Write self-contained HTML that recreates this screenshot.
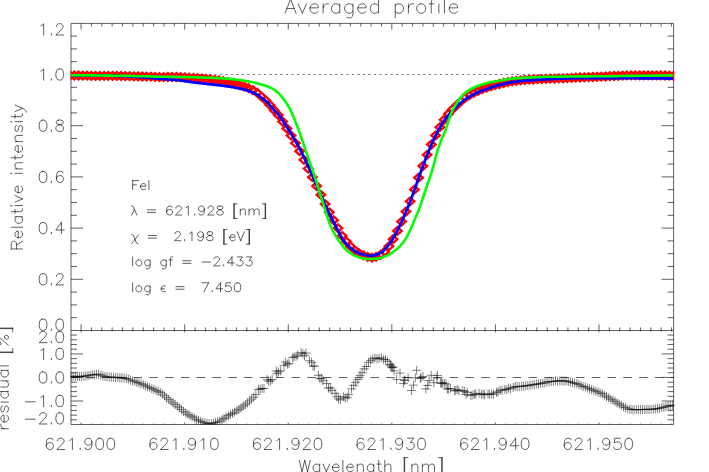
<!DOCTYPE html>
<html><head><meta charset="utf-8"><title>Averaged profile</title>
<style>html,body{margin:0;padding:0;background:#fff;font-family:"Liberation Sans",sans-serif}svg{display:block}</style></head>
<body><svg width="709" height="472" viewBox="0 0 709 472">
<rect width="709" height="472" fill="#fff"/>
<defs><clipPath id="cm"><rect x="70.5" y="23.4" width="603.8" height="307.1"/></clipPath>
<clipPath id="cr"><rect x="70.5" y="330.5" width="604.1" height="94.5"/></clipPath></defs>
<path d="M71.0 23.4H673.6V424.5H71.0ZM71.0 330.5H673.6M81.10 23.4v6.2M81.10 330.5v-6.2M81.10 330.5v1.9M81.10 424.5v-1.9M91.46 23.4v3.1M91.46 330.5v-3.1M91.46 330.5v0.9M91.46 424.5v-0.9M101.82 23.4v3.1M101.82 330.5v-3.1M101.82 330.5v0.9M101.82 424.5v-0.9M112.17 23.4v3.1M112.17 330.5v-3.1M112.17 330.5v0.9M112.17 424.5v-0.9M122.53 23.4v3.1M122.53 330.5v-3.1M122.53 330.5v0.9M122.53 424.5v-0.9M132.89 23.4v3.1M132.89 330.5v-3.1M132.89 330.5v0.9M132.89 424.5v-0.9M143.25 23.4v3.1M143.25 330.5v-3.1M143.25 330.5v0.9M143.25 424.5v-0.9M153.61 23.4v3.1M153.61 330.5v-3.1M153.61 330.5v0.9M153.61 424.5v-0.9M163.96 23.4v3.1M163.96 330.5v-3.1M163.96 330.5v0.9M163.96 424.5v-0.9M174.32 23.4v3.1M174.32 330.5v-3.1M174.32 330.5v0.9M174.32 424.5v-0.9M184.68 23.4v6.2M184.68 330.5v-6.2M184.68 330.5v1.9M184.68 424.5v-1.9M195.04 23.4v3.1M195.04 330.5v-3.1M195.04 330.5v0.9M195.04 424.5v-0.9M205.40 23.4v3.1M205.40 330.5v-3.1M205.40 330.5v0.9M205.40 424.5v-0.9M215.75 23.4v3.1M215.75 330.5v-3.1M215.75 330.5v0.9M215.75 424.5v-0.9M226.11 23.4v3.1M226.11 330.5v-3.1M226.11 330.5v0.9M226.11 424.5v-0.9M236.47 23.4v3.1M236.47 330.5v-3.1M236.47 330.5v0.9M236.47 424.5v-0.9M246.83 23.4v3.1M246.83 330.5v-3.1M246.83 330.5v0.9M246.83 424.5v-0.9M257.19 23.4v3.1M257.19 330.5v-3.1M257.19 330.5v0.9M257.19 424.5v-0.9M267.54 23.4v3.1M267.54 330.5v-3.1M267.54 330.5v0.9M267.54 424.5v-0.9M277.90 23.4v3.1M277.90 330.5v-3.1M277.90 330.5v0.9M277.90 424.5v-0.9M288.26 23.4v6.2M288.26 330.5v-6.2M288.26 330.5v1.9M288.26 424.5v-1.9M298.62 23.4v3.1M298.62 330.5v-3.1M298.62 330.5v0.9M298.62 424.5v-0.9M308.98 23.4v3.1M308.98 330.5v-3.1M308.98 330.5v0.9M308.98 424.5v-0.9M319.33 23.4v3.1M319.33 330.5v-3.1M319.33 330.5v0.9M319.33 424.5v-0.9M329.69 23.4v3.1M329.69 330.5v-3.1M329.69 330.5v0.9M329.69 424.5v-0.9M340.05 23.4v3.1M340.05 330.5v-3.1M340.05 330.5v0.9M340.05 424.5v-0.9M350.41 23.4v3.1M350.41 330.5v-3.1M350.41 330.5v0.9M350.41 424.5v-0.9M360.77 23.4v3.1M360.77 330.5v-3.1M360.77 330.5v0.9M360.77 424.5v-0.9M371.12 23.4v3.1M371.12 330.5v-3.1M371.12 330.5v0.9M371.12 424.5v-0.9M381.48 23.4v3.1M381.48 330.5v-3.1M381.48 330.5v0.9M381.48 424.5v-0.9M391.84 23.4v6.2M391.84 330.5v-6.2M391.84 330.5v1.9M391.84 424.5v-1.9M402.20 23.4v3.1M402.20 330.5v-3.1M402.20 330.5v0.9M402.20 424.5v-0.9M412.56 23.4v3.1M412.56 330.5v-3.1M412.56 330.5v0.9M412.56 424.5v-0.9M422.91 23.4v3.1M422.91 330.5v-3.1M422.91 330.5v0.9M422.91 424.5v-0.9M433.27 23.4v3.1M433.27 330.5v-3.1M433.27 330.5v0.9M433.27 424.5v-0.9M443.63 23.4v3.1M443.63 330.5v-3.1M443.63 330.5v0.9M443.63 424.5v-0.9M453.99 23.4v3.1M453.99 330.5v-3.1M453.99 330.5v0.9M453.99 424.5v-0.9M464.35 23.4v3.1M464.35 330.5v-3.1M464.35 330.5v0.9M464.35 424.5v-0.9M474.70 23.4v3.1M474.70 330.5v-3.1M474.70 330.5v0.9M474.70 424.5v-0.9M485.06 23.4v3.1M485.06 330.5v-3.1M485.06 330.5v0.9M485.06 424.5v-0.9M495.42 23.4v6.2M495.42 330.5v-6.2M495.42 330.5v1.9M495.42 424.5v-1.9M505.78 23.4v3.1M505.78 330.5v-3.1M505.78 330.5v0.9M505.78 424.5v-0.9M516.14 23.4v3.1M516.14 330.5v-3.1M516.14 330.5v0.9M516.14 424.5v-0.9M526.49 23.4v3.1M526.49 330.5v-3.1M526.49 330.5v0.9M526.49 424.5v-0.9M536.85 23.4v3.1M536.85 330.5v-3.1M536.85 330.5v0.9M536.85 424.5v-0.9M547.21 23.4v3.1M547.21 330.5v-3.1M547.21 330.5v0.9M547.21 424.5v-0.9M557.57 23.4v3.1M557.57 330.5v-3.1M557.57 330.5v0.9M557.57 424.5v-0.9M567.93 23.4v3.1M567.93 330.5v-3.1M567.93 330.5v0.9M567.93 424.5v-0.9M578.28 23.4v3.1M578.28 330.5v-3.1M578.28 330.5v0.9M578.28 424.5v-0.9M588.64 23.4v3.1M588.64 330.5v-3.1M588.64 330.5v0.9M588.64 424.5v-0.9M599.00 23.4v6.2M599.00 330.5v-6.2M599.00 330.5v1.9M599.00 424.5v-1.9M609.36 23.4v3.1M609.36 330.5v-3.1M609.36 330.5v0.9M609.36 424.5v-0.9M619.72 23.4v3.1M619.72 330.5v-3.1M619.72 330.5v0.9M619.72 424.5v-0.9M630.07 23.4v3.1M630.07 330.5v-3.1M630.07 330.5v0.9M630.07 424.5v-0.9M640.43 23.4v3.1M640.43 330.5v-3.1M640.43 330.5v0.9M640.43 424.5v-0.9M650.79 23.4v3.1M650.79 330.5v-3.1M650.79 330.5v0.9M650.79 424.5v-0.9M661.15 23.4v3.1M661.15 330.5v-3.1M661.15 330.5v0.9M661.15 424.5v-0.9M671.51 23.4v3.1M671.51 330.5v-3.1M671.51 330.5v0.9M671.51 424.5v-0.9M71.0 317.70h6.0M673.6 317.70h-6.0M71.0 304.90h6.0M673.6 304.90h-6.0M71.0 292.10h6.0M673.6 292.10h-6.0M71.0 279.30h12.0M673.6 279.30h-12.0M71.0 266.50h6.0M673.6 266.50h-6.0M71.0 253.70h6.0M673.6 253.70h-6.0M71.0 240.90h6.0M673.6 240.90h-6.0M71.0 228.10h12.0M673.6 228.10h-12.0M71.0 215.30h6.0M673.6 215.30h-6.0M71.0 202.50h6.0M673.6 202.50h-6.0M71.0 189.70h6.0M673.6 189.70h-6.0M71.0 176.90h12.0M673.6 176.90h-12.0M71.0 164.10h6.0M673.6 164.10h-6.0M71.0 151.30h6.0M673.6 151.30h-6.0M71.0 138.50h6.0M673.6 138.50h-6.0M71.0 125.70h12.0M673.6 125.70h-12.0M71.0 112.90h6.0M673.6 112.90h-6.0M71.0 100.10h6.0M673.6 100.10h-6.0M71.0 87.30h6.0M673.6 87.30h-6.0M71.0 74.50h12.0M673.6 74.50h-12.0M71.0 61.70h6.0M673.6 61.70h-6.0M71.0 48.90h6.0M673.6 48.90h-6.0M71.0 36.10h6.0M673.6 36.10h-6.0M71.0 419.84h6.0M673.6 419.84h-6.0M71.0 415.13h6.0M673.6 415.13h-6.0M71.0 410.42h6.0M673.6 410.42h-6.0M71.0 405.71h6.0M673.6 405.71h-6.0M71.0 401.00h12.0M673.6 401.00h-12.0M71.0 396.29h6.0M673.6 396.29h-6.0M71.0 391.58h6.0M673.6 391.58h-6.0M71.0 386.87h6.0M673.6 386.87h-6.0M71.0 382.16h6.0M673.6 382.16h-6.0M71.0 377.45h12.0M673.6 377.45h-12.0M71.0 372.74h6.0M673.6 372.74h-6.0M71.0 368.03h6.0M673.6 368.03h-6.0M71.0 363.32h6.0M673.6 363.32h-6.0M71.0 358.61h6.0M673.6 358.61h-6.0M71.0 353.90h12.0M673.6 353.90h-12.0M71.0 349.19h6.0M673.6 349.19h-6.0M71.0 344.48h6.0M673.6 344.48h-6.0M71.0 339.77h6.0M673.6 339.77h-6.0M71.0 335.06h6.0M673.6 335.06h-6.0" stroke="#000" stroke-opacity="0.62" stroke-width="1.00" fill="none" stroke-linecap="butt"/>
<path d="M290.57 -0.83L285.03 13.20M290.57 -0.83L296.12 13.20M287.11 8.52L294.04 8.52M298.20 3.85L302.35 13.20M306.51 3.85L302.35 13.20M309.98 7.86L318.29 7.86L318.29 6.52L317.60 5.18L316.91 4.52L315.52 3.85L313.44 3.85L312.06 4.52L310.67 5.85L309.98 7.86L309.98 9.19L310.67 11.20L312.06 12.53L313.44 13.20L315.52 13.20L316.91 12.53L318.29 11.20M323.14 3.85L323.14 13.20M323.14 7.86L323.84 5.85L325.22 4.52L326.61 3.85L328.69 3.85M339.78 3.85L339.78 13.20M339.78 5.85L338.39 4.52L337.00 3.85L334.92 3.85L333.54 4.52L332.15 5.85L331.46 7.86L331.46 9.19L332.15 11.20L333.54 12.53L334.92 13.20L337.00 13.20L338.39 12.53L339.78 11.20M352.94 3.85L352.94 14.54L352.25 16.54L351.56 17.21L350.17 17.88L348.09 17.88L346.71 17.21M352.94 5.85L351.56 4.52L350.17 3.85L348.09 3.85L346.71 4.52L345.32 5.85L344.63 7.86L344.63 9.19L345.32 11.20L346.71 12.53L348.09 13.20L350.17 13.20L351.56 12.53L352.94 11.20M357.79 7.86L366.11 7.86L366.11 6.52L365.42 5.18L364.72 4.52L363.34 3.85L361.26 3.85L359.87 4.52L358.49 5.85L357.79 7.86L357.79 9.19L358.49 11.20L359.87 12.53L361.26 13.20L363.34 13.20L364.72 12.53L366.11 11.20M378.58 -0.83L378.58 13.20M378.58 5.85L377.20 4.52L375.81 3.85L373.73 3.85L372.35 4.52L370.96 5.85L370.27 7.86L370.27 9.19L370.96 11.20L372.35 12.53L373.73 13.20L375.81 13.20L377.20 12.53L378.58 11.20M395.22 3.85L395.22 17.88M395.22 5.85L396.60 4.52L397.99 3.85L400.07 3.85L401.45 4.52L402.84 5.85L403.53 7.86L403.53 9.19L402.84 11.20L401.45 12.53L400.07 13.20L397.99 13.20L396.60 12.53L395.22 11.20M408.38 3.85L408.38 13.20M408.38 7.86L409.08 5.85L410.46 4.52L411.85 3.85L413.93 3.85M420.16 3.85L418.78 4.52L417.39 5.85L416.70 7.86L416.70 9.19L417.39 11.20L418.78 12.53L420.16 13.20L422.24 13.20L423.63 12.53L425.01 11.20L425.71 9.19L425.71 7.86L425.01 5.85L423.63 4.52L422.24 3.85L420.16 3.85M434.72 -0.83L433.33 -0.83L431.94 -0.16L431.25 1.84L431.25 13.20M429.17 3.85L434.02 3.85M438.18 -0.83L438.87 -0.16L439.57 -0.83L438.87 -1.50L438.18 -0.83M438.87 3.85L438.87 13.20M444.42 -0.83L444.42 13.20M449.27 7.86L457.59 7.86L457.59 6.52L456.89 5.18L456.20 4.52L454.81 3.85L452.73 3.85L451.35 4.52L449.96 5.85L449.27 7.86L449.27 9.19L449.96 11.20L451.35 12.53L452.73 13.20L454.81 13.20L456.20 12.53L457.59 11.20M52.96 439.85L52.40 438.78L50.73 438.24L49.62 438.24L47.95 438.78L46.84 440.39L46.28 443.07L46.28 445.75L46.84 447.89L47.95 448.96L49.62 449.50L50.18 449.50L51.84 448.96L52.96 447.89L53.51 446.28L53.51 445.75L52.96 444.14L51.84 443.07L50.18 442.53L49.62 442.53L47.95 443.07L46.84 444.14L46.28 445.75M57.40 440.92L57.40 440.39L57.96 439.32L58.52 438.78L59.63 438.24L61.85 438.24L62.96 438.78L63.52 439.32L64.08 440.39L64.08 441.46L63.52 442.53L62.41 444.14L56.85 449.50L64.63 449.50M69.64 440.39L70.75 439.85L72.42 438.24L72.42 449.50M80.20 448.43L79.64 448.96L80.20 449.50L80.76 448.96L80.20 448.43M91.88 442.00L91.32 443.60L90.21 444.68L88.54 445.21L87.98 445.21L86.32 444.68L85.20 443.60L84.65 442.00L84.65 441.46L85.20 439.85L86.32 438.78L87.98 438.24L88.54 438.24L90.21 438.78L91.32 439.85L91.88 442.00L91.88 444.68L91.32 447.36L90.21 448.96L88.54 449.50L87.43 449.50L85.76 448.96L85.20 447.89M99.10 438.24L97.44 438.78L96.32 440.39L95.77 443.07L95.77 444.68L96.32 447.36L97.44 448.96L99.10 449.50L100.22 449.50L101.88 448.96L103.00 447.36L103.55 444.68L103.55 443.07L103.00 440.39L101.88 438.78L100.22 438.24L99.10 438.24M110.22 438.24L108.56 438.78L107.44 440.39L106.89 443.07L106.89 444.68L107.44 447.36L108.56 448.96L110.22 449.50L111.34 449.50L113.00 448.96L114.12 447.36L114.67 444.68L114.67 443.07L114.12 440.39L113.00 438.78L111.34 438.24L110.22 438.24M156.54 439.85L155.98 438.78L154.31 438.24L153.20 438.24L151.53 438.78L150.42 440.39L149.86 443.07L149.86 445.75L150.42 447.89L151.53 448.96L153.20 449.50L153.76 449.50L155.42 448.96L156.54 447.89L157.09 446.28L157.09 445.75L156.54 444.14L155.42 443.07L153.76 442.53L153.20 442.53L151.53 443.07L150.42 444.14L149.86 445.75M160.98 440.92L160.98 440.39L161.54 439.32L162.10 438.78L163.21 438.24L165.43 438.24L166.54 438.78L167.10 439.32L167.66 440.39L167.66 441.46L167.10 442.53L165.99 444.14L160.43 449.50L168.21 449.50M173.22 440.39L174.33 439.85L176.00 438.24L176.00 449.50M183.78 448.43L183.22 448.96L183.78 449.50L184.34 448.96L183.78 448.43M195.46 442.00L194.90 443.60L193.79 444.68L192.12 445.21L191.56 445.21L189.90 444.68L188.78 443.60L188.23 442.00L188.23 441.46L188.78 439.85L189.90 438.78L191.56 438.24L192.12 438.24L193.79 438.78L194.90 439.85L195.46 442.00L195.46 444.68L194.90 447.36L193.79 448.96L192.12 449.50L191.01 449.50L189.34 448.96L188.78 447.89M201.02 440.39L202.13 439.85L203.80 438.24L203.80 449.50M213.80 438.24L212.14 438.78L211.02 440.39L210.47 443.07L210.47 444.68L211.02 447.36L212.14 448.96L213.80 449.50L214.92 449.50L216.58 448.96L217.70 447.36L218.25 444.68L218.25 443.07L217.70 440.39L216.58 438.78L214.92 438.24L213.80 438.24M260.12 439.85L259.56 438.78L257.89 438.24L256.78 438.24L255.11 438.78L254.00 440.39L253.44 443.07L253.44 445.75L254.00 447.89L255.11 448.96L256.78 449.50L257.34 449.50L259.00 448.96L260.12 447.89L260.67 446.28L260.67 445.75L260.12 444.14L259.00 443.07L257.34 442.53L256.78 442.53L255.11 443.07L254.00 444.14L253.44 445.75M264.56 440.92L264.56 440.39L265.12 439.32L265.68 438.78L266.79 438.24L269.01 438.24L270.12 438.78L270.68 439.32L271.24 440.39L271.24 441.46L270.68 442.53L269.57 444.14L264.01 449.50L271.79 449.50M276.80 440.39L277.91 439.85L279.58 438.24L279.58 449.50M287.36 448.43L286.80 448.96L287.36 449.50L287.92 448.96L287.36 448.43M299.04 442.00L298.48 443.60L297.37 444.68L295.70 445.21L295.14 445.21L293.48 444.68L292.36 443.60L291.81 442.00L291.81 441.46L292.36 439.85L293.48 438.78L295.14 438.24L295.70 438.24L297.37 438.78L298.48 439.85L299.04 442.00L299.04 444.68L298.48 447.36L297.37 448.96L295.70 449.50L294.59 449.50L292.92 448.96L292.36 447.89M303.48 440.92L303.48 440.39L304.04 439.32L304.60 438.78L305.71 438.24L307.93 438.24L309.04 438.78L309.60 439.32L310.16 440.39L310.16 441.46L309.60 442.53L308.49 444.14L302.93 449.50L310.71 449.50M317.38 438.24L315.72 438.78L314.60 440.39L314.05 443.07L314.05 444.68L314.60 447.36L315.72 448.96L317.38 449.50L318.50 449.50L320.16 448.96L321.28 447.36L321.83 444.68L321.83 443.07L321.28 440.39L320.16 438.78L318.50 438.24L317.38 438.24M363.70 439.85L363.14 438.78L361.47 438.24L360.36 438.24L358.69 438.78L357.58 440.39L357.02 443.07L357.02 445.75L357.58 447.89L358.69 448.96L360.36 449.50L360.92 449.50L362.58 448.96L363.70 447.89L364.25 446.28L364.25 445.75L363.70 444.14L362.58 443.07L360.92 442.53L360.36 442.53L358.69 443.07L357.58 444.14L357.02 445.75M368.14 440.92L368.14 440.39L368.70 439.32L369.26 438.78L370.37 438.24L372.59 438.24L373.70 438.78L374.26 439.32L374.82 440.39L374.82 441.46L374.26 442.53L373.15 444.14L367.59 449.50L375.37 449.50M380.38 440.39L381.49 439.85L383.16 438.24L383.16 449.50M390.94 448.43L390.38 448.96L390.94 449.50L391.50 448.96L390.94 448.43M402.62 442.00L402.06 443.60L400.95 444.68L399.28 445.21L398.72 445.21L397.06 444.68L395.94 443.60L395.39 442.00L395.39 441.46L395.94 439.85L397.06 438.78L398.72 438.24L399.28 438.24L400.95 438.78L402.06 439.85L402.62 442.00L402.62 444.68L402.06 447.36L400.95 448.96L399.28 449.50L398.17 449.50L396.50 448.96L395.94 447.89M407.62 438.24L413.74 438.24L410.40 442.53L412.07 442.53L413.18 443.07L413.74 443.60L414.29 445.21L414.29 446.28L413.74 447.89L412.62 448.96L410.96 449.50L409.29 449.50L407.62 448.96L407.06 448.43L406.51 447.36M420.96 438.24L419.30 438.78L418.18 440.39L417.63 443.07L417.63 444.68L418.18 447.36L419.30 448.96L420.96 449.50L422.08 449.50L423.74 448.96L424.86 447.36L425.41 444.68L425.41 443.07L424.86 440.39L423.74 438.78L422.08 438.24L420.96 438.24M467.28 439.85L466.72 438.78L465.05 438.24L463.94 438.24L462.27 438.78L461.16 440.39L460.60 443.07L460.60 445.75L461.16 447.89L462.27 448.96L463.94 449.50L464.50 449.50L466.16 448.96L467.28 447.89L467.83 446.28L467.83 445.75L467.28 444.14L466.16 443.07L464.50 442.53L463.94 442.53L462.27 443.07L461.16 444.14L460.60 445.75M471.72 440.92L471.72 440.39L472.28 439.32L472.84 438.78L473.95 438.24L476.17 438.24L477.28 438.78L477.84 439.32L478.40 440.39L478.40 441.46L477.84 442.53L476.73 444.14L471.17 449.50L478.95 449.50M483.96 440.39L485.07 439.85L486.74 438.24L486.74 449.50M494.52 448.43L493.96 448.96L494.52 449.50L495.08 448.96L494.52 448.43M506.20 442.00L505.64 443.60L504.53 444.68L502.86 445.21L502.30 445.21L500.64 444.68L499.52 443.60L498.97 442.00L498.97 441.46L499.52 439.85L500.64 438.78L502.30 438.24L502.86 438.24L504.53 438.78L505.64 439.85L506.20 442.00L506.20 444.68L505.64 447.36L504.53 448.96L502.86 449.50L501.75 449.50L500.08 448.96L499.52 447.89M515.65 438.24L510.09 445.75L518.43 445.75M515.65 438.24L515.65 449.50M524.54 438.24L522.88 438.78L521.76 440.39L521.21 443.07L521.21 444.68L521.76 447.36L522.88 448.96L524.54 449.50L525.66 449.50L527.32 448.96L528.44 447.36L528.99 444.68L528.99 443.07L528.44 440.39L527.32 438.78L525.66 438.24L524.54 438.24M570.86 439.85L570.30 438.78L568.63 438.24L567.52 438.24L565.85 438.78L564.74 440.39L564.18 443.07L564.18 445.75L564.74 447.89L565.85 448.96L567.52 449.50L568.08 449.50L569.74 448.96L570.86 447.89L571.41 446.28L571.41 445.75L570.86 444.14L569.74 443.07L568.08 442.53L567.52 442.53L565.85 443.07L564.74 444.14L564.18 445.75M575.30 440.92L575.30 440.39L575.86 439.32L576.42 438.78L577.53 438.24L579.75 438.24L580.86 438.78L581.42 439.32L581.98 440.39L581.98 441.46L581.42 442.53L580.31 444.14L574.75 449.50L582.53 449.50M587.54 440.39L588.65 439.85L590.32 438.24L590.32 449.50M598.10 448.43L597.54 448.96L598.10 449.50L598.66 448.96L598.10 448.43M609.78 442.00L609.22 443.60L608.11 444.68L606.44 445.21L605.88 445.21L604.22 444.68L603.10 443.60L602.55 442.00L602.55 441.46L603.10 439.85L604.22 438.78L605.88 438.24L606.44 438.24L608.11 438.78L609.22 439.85L609.78 442.00L609.78 444.68L609.22 447.36L608.11 448.96L606.44 449.50L605.33 449.50L603.66 448.96L603.10 447.89M620.34 438.24L614.78 438.24L614.22 443.07L614.78 442.53L616.45 442.00L618.12 442.00L619.78 442.53L620.90 443.60L621.45 445.21L621.45 446.28L620.90 447.89L619.78 448.96L618.12 449.50L616.45 449.50L614.78 448.96L614.22 448.43L613.67 447.36M628.12 438.24L626.46 438.78L625.34 440.39L624.79 443.07L624.79 444.68L625.34 447.36L626.46 448.96L628.12 449.50L629.24 449.50L630.90 448.96L632.02 447.36L632.57 444.68L632.57 443.07L632.02 440.39L630.90 438.78L629.24 438.24L628.12 438.24M40.84 25.89L41.95 25.35L43.62 23.74L43.62 35.00M51.40 33.93L50.84 34.46L51.40 35.00L51.96 34.46L51.40 33.93M56.40 26.42L56.40 25.89L56.96 24.82L57.52 24.28L58.63 23.74L60.85 23.74L61.96 24.28L62.52 24.82L63.08 25.89L63.08 26.96L62.52 28.03L61.41 29.64L55.85 35.00L63.63 35.00M40.84 71.02L41.95 70.48L43.62 68.87L43.62 80.13M51.40 79.06L50.84 79.59L51.40 80.13L51.96 79.59L51.40 79.06M59.18 68.87L57.52 69.41L56.40 71.02L55.85 73.70L55.85 75.30L56.40 77.98L57.52 79.59L59.18 80.13L60.30 80.13L61.96 79.59L63.08 77.98L63.63 75.30L63.63 73.70L63.08 71.02L61.96 69.41L60.30 68.87L59.18 68.87M42.50 120.07L40.84 120.61L39.72 122.22L39.17 124.90L39.17 126.50L39.72 129.18L40.84 130.79L42.50 131.33L43.62 131.33L45.28 130.79L46.40 129.18L46.95 126.50L46.95 124.90L46.40 122.22L45.28 120.61L43.62 120.07L42.50 120.07M51.40 130.26L50.84 130.79L51.40 131.33L51.96 130.79L51.40 130.26M58.63 120.07L56.96 120.61L56.40 121.68L56.40 122.75L56.96 123.82L58.07 124.36L60.30 124.90L61.96 125.43L63.08 126.50L63.63 127.58L63.63 129.18L63.08 130.26L62.52 130.79L60.85 131.33L58.63 131.33L56.96 130.79L56.40 130.26L55.85 129.18L55.85 127.58L56.40 126.50L57.52 125.43L59.18 124.90L61.41 124.36L62.52 123.82L63.08 122.75L63.08 121.68L62.52 120.61L60.85 120.07L58.63 120.07M42.50 171.27L40.84 171.81L39.72 173.42L39.17 176.10L39.17 177.70L39.72 180.38L40.84 181.99L42.50 182.53L43.62 182.53L45.28 181.99L46.40 180.38L46.95 177.70L46.95 176.10L46.40 173.42L45.28 171.81L43.62 171.27L42.50 171.27M51.40 181.46L50.84 181.99L51.40 182.53L51.96 181.99L51.40 181.46M63.08 172.88L62.52 171.81L60.85 171.27L59.74 171.27L58.07 171.81L56.96 173.42L56.40 176.10L56.40 178.78L56.96 180.92L58.07 181.99L59.74 182.53L60.30 182.53L61.96 181.99L63.08 180.92L63.63 179.31L63.63 178.78L63.08 177.17L61.96 176.10L60.30 175.56L59.74 175.56L58.07 176.10L56.96 177.17L56.40 178.78M42.50 222.47L40.84 223.01L39.72 224.62L39.17 227.30L39.17 228.90L39.72 231.58L40.84 233.19L42.50 233.73L43.62 233.73L45.28 233.19L46.40 231.58L46.95 228.90L46.95 227.30L46.40 224.62L45.28 223.01L43.62 222.47L42.50 222.47M51.40 232.66L50.84 233.19L51.40 233.73L51.96 233.19L51.40 232.66M61.41 222.47L55.85 229.98L64.19 229.98M61.41 222.47L61.41 233.73M42.50 273.67L40.84 274.21L39.72 275.82L39.17 278.50L39.17 280.10L39.72 282.78L40.84 284.39L42.50 284.93L43.62 284.93L45.28 284.39L46.40 282.78L46.95 280.10L46.95 278.50L46.40 275.82L45.28 274.21L43.62 273.67L42.50 273.67M51.40 283.86L50.84 284.39L51.40 284.93L51.96 284.39L51.40 283.86M56.40 276.35L56.40 275.82L56.96 274.74L57.52 274.21L58.63 273.67L60.85 273.67L61.96 274.21L62.52 274.74L63.08 275.82L63.08 276.89L62.52 277.96L61.41 279.57L55.85 284.93L63.63 284.93M42.50 319.04L40.84 319.58L39.72 321.19L39.17 323.87L39.17 325.48L39.72 328.16L40.84 329.76L42.50 330.30L43.62 330.30L45.28 329.76L46.40 328.16L46.95 325.48L46.95 323.87L46.40 321.19L45.28 319.58L43.62 319.04L42.50 319.04M51.40 329.23L50.84 329.76L51.40 330.30L51.96 329.76L51.40 329.23M59.18 319.04L57.52 319.58L56.40 321.19L55.85 323.87L55.85 325.48L56.40 328.16L57.52 329.76L59.18 330.30L60.30 330.30L61.96 329.76L63.08 328.16L63.63 325.48L63.63 323.87L63.08 321.19L61.96 319.58L60.30 319.04L59.18 319.04M39.72 334.08L39.72 333.54L40.28 332.47L40.84 331.94L41.95 331.40L44.17 331.40L45.28 331.94L45.84 332.47L46.40 333.54L46.40 334.62L45.84 335.69L44.73 337.30L39.17 342.66L46.95 342.66M51.40 341.58L50.84 342.12L51.40 342.66L51.96 342.12L51.40 341.58M59.18 331.40L57.52 331.94L56.40 333.54L55.85 336.22L55.85 337.83L56.40 340.51L57.52 342.12L59.18 342.66L60.30 342.66L61.96 342.12L63.08 340.51L63.63 337.83L63.63 336.22L63.08 333.54L61.96 331.94L60.30 331.40L59.18 331.40M40.84 350.42L41.95 349.88L43.62 348.27L43.62 359.53M51.40 358.46L50.84 358.99L51.40 359.53L51.96 358.99L51.40 358.46M59.18 348.27L57.52 348.81L56.40 350.42L55.85 353.10L55.85 354.70L56.40 357.38L57.52 358.99L59.18 359.53L60.30 359.53L61.96 358.99L63.08 357.38L63.63 354.70L63.63 353.10L63.08 350.42L61.96 348.81L60.30 348.27L59.18 348.27M42.50 371.82L40.84 372.36L39.72 373.97L39.17 376.65L39.17 378.25L39.72 380.93L40.84 382.54L42.50 383.08L43.62 383.08L45.28 382.54L46.40 380.93L46.95 378.25L46.95 376.65L46.40 373.97L45.28 372.36L43.62 371.82L42.50 371.82M51.40 382.01L50.84 382.54L51.40 383.08L51.96 382.54L51.40 382.01M59.18 371.82L57.52 372.36L56.40 373.97L55.85 376.65L55.85 378.25L56.40 380.93L57.52 382.54L59.18 383.08L60.30 383.08L61.96 382.54L63.08 380.93L63.63 378.25L63.63 376.65L63.08 373.97L61.96 372.36L60.30 371.82L59.18 371.82M25.27 401.80L35.28 401.80M40.84 397.52L41.95 396.98L43.62 395.37L43.62 406.63M51.40 405.56L50.84 406.09L51.40 406.63L51.96 406.09L51.40 405.56M59.18 395.37L57.52 395.91L56.40 397.52L55.85 400.20L55.85 401.80L56.40 404.48L57.52 406.09L59.18 406.63L60.30 406.63L61.96 406.09L63.08 404.48L63.63 401.80L63.63 400.20L63.08 397.52L61.96 395.91L60.30 395.37L59.18 395.37M25.27 419.18L35.28 419.18M39.72 415.42L39.72 414.89L40.28 413.82L40.84 413.28L41.95 412.74L44.17 412.74L45.28 413.28L45.84 413.82L46.40 414.89L46.40 415.96L45.84 417.03L44.73 418.64L39.17 424.00L46.95 424.00M51.40 422.93L50.84 423.46L51.40 424.00L51.96 423.46L51.40 422.93M59.18 412.74L57.52 413.28L56.40 414.89L55.85 417.57L55.85 419.18L56.40 421.86L57.52 423.46L59.18 424.00L60.30 424.00L61.96 423.46L63.08 421.86L63.63 419.18L63.63 417.57L63.08 414.89L61.96 413.28L60.30 412.74L59.18 412.74M11.24 248.95L22.50 248.95M11.24 248.95L11.24 243.94L11.78 242.27L12.32 241.72L13.39 241.16L14.46 241.16L15.53 241.72L16.07 242.27L16.60 243.94L16.60 248.95M16.60 245.05L22.50 241.16M18.21 237.83L18.21 231.15L17.14 231.15L16.07 231.71L15.53 232.27L15.00 233.38L15.00 235.05L15.53 236.16L16.60 237.27L18.21 237.83L19.28 237.83L20.89 237.27L21.96 236.16L22.50 235.05L22.50 233.38L21.96 232.27L20.89 231.15M11.24 227.26L22.50 227.26M15.00 216.70L22.50 216.70M16.60 216.70L15.53 217.81L15.00 218.92L15.00 220.59L15.53 221.70L16.60 222.81L18.21 223.37L19.28 223.37L20.89 222.81L21.96 221.70L22.50 220.59L22.50 218.92L21.96 217.81L20.89 216.70M11.24 211.69L20.36 211.69L21.96 211.14L22.50 210.03L22.50 208.91M15.00 213.36L15.00 209.47M11.24 206.13L11.78 205.58L11.24 205.02L10.71 205.58L11.24 206.13M15.00 205.58L22.50 205.58M15.00 202.24L22.50 198.91M15.00 195.57L22.50 198.91M18.21 192.79L18.21 186.12L17.14 186.12L16.07 186.67L15.53 187.23L15.00 188.34L15.00 190.01L15.53 191.12L16.60 192.23L18.21 192.79L19.28 192.79L20.89 192.23L21.96 191.12L22.50 190.01L22.50 188.34L21.96 187.23L20.89 186.12M11.24 173.89L11.78 173.33L11.24 172.77L10.71 173.33L11.24 173.89M15.00 173.33L22.50 173.33M15.00 168.88L22.50 168.88M17.14 168.88L15.53 167.21L15.00 166.10L15.00 164.43L15.53 163.32L17.14 162.77L22.50 162.77M11.24 157.76L20.36 157.76L21.96 157.21L22.50 156.09L22.50 154.98M15.00 159.43L15.00 155.54M18.21 152.20L18.21 145.53L17.14 145.53L16.07 146.09L15.53 146.64L15.00 147.75L15.00 149.42L15.53 150.53L16.60 151.65L18.21 152.20L19.28 152.20L20.89 151.65L21.96 150.53L22.50 149.42L22.50 147.75L21.96 146.64L20.89 145.53M15.00 141.64L22.50 141.64M17.14 141.64L15.53 139.97L15.00 138.86L15.00 137.19L15.53 136.08L17.14 135.52L22.50 135.52M16.60 125.51L15.53 126.07L15.00 127.74L15.00 129.41L15.53 131.07L16.60 131.63L17.68 131.07L18.21 129.96L18.75 127.18L19.28 126.07L20.36 125.51L20.89 125.51L21.96 126.07L22.50 127.74L22.50 129.41L21.96 131.07L20.89 131.63M11.24 122.18L11.78 121.62L11.24 121.07L10.71 121.62L11.24 122.18M15.00 121.62L22.50 121.62M11.24 116.62L20.36 116.62L21.96 116.06L22.50 114.95L22.50 113.84M15.00 118.29L15.00 114.39M15.00 111.61L22.50 108.28M15.00 104.94L22.50 108.28L24.64 109.39L25.72 110.50L26.25 111.61L26.25 112.17M0.90 428.72L8.40 428.72M4.11 428.72L2.50 428.16L1.43 427.05L0.90 425.94L0.90 424.27M4.11 422.05L4.11 415.37L3.04 415.37L1.97 415.93L1.43 416.49L0.90 417.60L0.90 419.27L1.43 420.38L2.50 421.49L4.11 422.05L5.18 422.05L6.79 421.49L7.86 420.38L8.40 419.27L8.40 417.60L7.86 416.49L6.79 415.37M2.50 405.92L1.43 406.48L0.90 408.15L0.90 409.81L1.43 411.48L2.50 412.04L3.58 411.48L4.11 410.37L4.65 407.59L5.18 406.48L6.26 405.92L6.79 405.92L7.86 406.48L8.40 408.15L8.40 409.81L7.86 411.48L6.79 412.04M-2.86 402.59L-2.32 402.03L-2.86 401.47L-3.39 402.03L-2.86 402.59M0.90 402.03L8.40 402.03M-2.86 391.47L8.40 391.47M2.50 391.47L1.43 392.58L0.90 393.69L0.90 395.36L1.43 396.47L2.50 397.58L4.11 398.14L5.18 398.14L6.79 397.58L7.86 396.47L8.40 395.36L8.40 393.69L7.86 392.58L6.79 391.47M0.90 387.02L6.26 387.02L7.86 386.46L8.40 385.35L8.40 383.68L7.86 382.57L6.26 380.90M0.90 380.90L8.40 380.90M0.90 370.34L8.40 370.34M2.50 370.34L1.43 371.45L0.90 372.56L0.90 374.23L1.43 375.34L2.50 376.45L4.11 377.01L5.18 377.01L6.79 376.45L7.86 375.34L8.40 374.23L8.40 372.56L7.86 371.45L6.79 370.34M-2.86 365.89L8.40 365.89M-5.54 352.55L12.69 352.55M-5.54 351.99L12.69 351.99M-5.54 352.55L-5.54 348.65M12.69 352.55L12.69 348.65M-2.86 335.31L8.40 345.32M-2.86 342.54L-1.78 341.43L-0.71 341.43L0.36 341.98L0.90 343.09L0.90 344.21L-0.18 345.32L-1.25 345.32L-2.32 344.76L-2.86 343.65L-2.86 342.54L-2.32 341.43L-1.78 339.76L-1.78 338.09L-2.32 336.42L-2.86 335.31M4.65 337.53L5.18 338.65L6.26 339.20L7.33 339.20L8.40 338.09L8.40 336.98L7.86 335.87L6.79 335.31L5.72 335.31L4.65 336.42L4.65 337.53M-5.54 328.64L12.69 328.64M-5.54 328.08L12.69 328.08M-5.54 331.97L-5.54 328.08M12.69 331.97L12.69 328.08M299.26 460.34L302.02 471.60M304.78 460.34L302.02 471.60M304.78 460.34L307.54 471.60M310.30 460.34L307.54 471.60M319.69 464.10L319.69 471.60M319.69 465.70L318.58 464.63L317.48 464.10L315.82 464.10L314.72 464.63L313.62 465.70L313.06 467.31L313.06 468.38L313.62 469.99L314.72 471.06L315.82 471.60L317.48 471.60L318.58 471.06L319.69 469.99M323.00 464.10L326.31 471.60M329.62 464.10L326.31 471.60M332.38 467.31L339.01 467.31L339.01 466.24L338.46 465.17L337.90 464.63L336.80 464.10L335.14 464.10L334.04 464.63L332.94 465.70L332.38 467.31L332.38 468.38L332.94 469.99L334.04 471.06L335.14 471.60L336.80 471.60L337.90 471.06L339.01 469.99M342.87 460.34L342.87 471.60M346.74 467.31L353.36 467.31L353.36 466.24L352.81 465.17L352.26 464.63L351.15 464.10L349.50 464.10L348.39 464.63L347.29 465.70L346.74 467.31L346.74 468.38L347.29 469.99L348.39 471.06L349.50 471.60L351.15 471.60L352.26 471.06L353.36 469.99M357.22 464.10L357.22 471.60M357.22 466.24L358.88 464.63L359.98 464.10L361.64 464.10L362.74 464.63L363.30 466.24L363.30 471.60M373.78 464.10L373.78 472.67L373.23 474.28L372.68 474.82L371.58 475.35L369.92 475.35L368.82 474.82M373.78 465.70L372.68 464.63L371.58 464.10L369.92 464.10L368.82 464.63L367.71 465.70L367.16 467.31L367.16 468.38L367.71 469.99L368.82 471.06L369.92 471.60L371.58 471.60L372.68 471.06L373.78 469.99M378.75 460.34L378.75 469.46L379.30 471.06L380.41 471.60L381.51 471.60M377.10 464.10L380.96 464.10M384.82 460.34L384.82 471.60M384.82 466.24L386.48 464.63L387.58 464.10L389.24 464.10L390.34 464.63L390.90 466.24L390.90 471.60M404.14 457.66L404.14 475.89M404.70 457.66L404.70 475.89M404.14 457.66L408.01 457.66M404.14 475.89L408.01 475.89M411.87 464.10L411.87 471.60M411.87 466.24L413.53 464.63L414.63 464.10L416.29 464.10L417.39 464.63L417.94 466.24L417.94 471.60M422.36 464.10L422.36 471.60M422.36 466.24L424.02 464.63L425.12 464.10L426.78 464.10L427.88 464.63L428.43 466.24L428.43 471.60M428.43 466.24L430.09 464.63L431.19 464.10L432.85 464.10L433.95 464.63L434.50 466.24L434.50 471.60M441.68 457.66L441.68 475.89M442.23 457.66L442.23 475.89M438.37 457.66L442.23 457.66M438.37 475.89L442.23 475.89M132.64 180.61L132.64 189.60M132.64 180.61L138.62 180.61M132.64 184.89L136.32 184.89M140.46 186.18L145.98 186.18L145.98 185.32L145.52 184.46L145.06 184.04L144.14 183.61L142.76 183.61L141.84 184.04L140.92 184.89L140.46 186.18L140.46 187.03L140.92 188.32L141.84 189.17L142.76 189.60L144.14 189.60L145.06 189.17L145.98 188.32M148.90 180.61L148.90 189.60M131.26 206.01L132.18 206.01L133.10 206.44L133.56 207.30L136.78 215.00M134.39 209.22L131.72 215.00M147.36 209.86L155.64 209.86M147.36 212.43L155.64 212.43M172.20 207.30L171.74 206.44L170.36 206.01L169.44 206.01L168.06 206.44L167.14 207.72L166.68 209.86L166.68 212.00L167.14 213.72L168.06 214.57L169.44 215.00L169.90 215.00L171.28 214.57L172.20 213.72L172.66 212.43L172.66 212.00L172.20 210.72L171.28 209.86L169.90 209.44L169.44 209.44L168.06 209.86L167.14 210.72L166.68 212.00M175.88 208.15L175.88 207.72L176.34 206.87L176.80 206.44L177.72 206.01L179.56 206.01L180.48 206.44L180.94 206.87L181.40 207.72L181.40 208.58L180.94 209.44L180.02 210.72L175.42 215.00L181.86 215.00M186.00 207.72L186.92 207.30L188.30 206.01L188.30 215.00M194.74 214.14L194.28 214.57L194.74 215.00L195.20 214.57L194.74 214.14M204.40 209.01L203.94 210.29L203.02 211.15L201.64 211.58L201.18 211.58L199.80 211.15L198.88 210.29L198.42 209.01L198.42 208.58L198.88 207.30L199.80 206.44L201.18 206.01L201.64 206.01L203.02 206.44L203.94 207.30L204.40 209.01L204.40 211.15L203.94 213.29L203.02 214.57L201.64 215.00L200.72 215.00L199.34 214.57L198.88 213.72M208.08 208.15L208.08 207.72L208.54 206.87L209.00 206.44L209.92 206.01L211.76 206.01L212.68 206.44L213.14 206.87L213.60 207.72L213.60 208.58L213.14 209.44L212.22 210.72L207.62 215.00L214.06 215.00M219.12 206.01L217.74 206.44L217.28 207.30L217.28 208.15L217.74 209.01L218.66 209.44L220.50 209.86L221.88 210.29L222.80 211.15L223.26 212.00L223.26 213.29L222.80 214.14L222.34 214.57L220.96 215.00L219.12 215.00L217.74 214.57L217.28 214.14L216.82 213.29L216.82 212.00L217.28 211.15L218.20 210.29L219.58 209.86L221.42 209.44L222.34 209.01L222.80 208.15L222.80 207.30L222.34 206.44L220.96 206.01L219.12 206.01M233.84 203.87L233.84 218.42M234.30 203.87L234.30 218.42M233.84 203.87L237.06 203.87M233.84 218.42L237.06 218.42M240.28 209.01L240.28 215.00M240.28 210.72L241.66 209.44L242.58 209.01L243.96 209.01L244.88 209.44L245.34 210.72L245.34 215.00M249.02 209.01L249.02 215.00M249.02 210.72L250.40 209.44L251.32 209.01L252.70 209.01L253.62 209.44L254.08 210.72L254.08 215.00M254.08 210.72L255.46 209.44L256.38 209.01L257.76 209.01L258.68 209.44L259.14 210.72L259.14 215.00M265.12 203.87L265.12 218.42M265.58 203.87L265.58 218.42M262.36 203.87L265.58 203.87M262.36 218.42L265.58 218.42M131.72 234.71L132.64 234.71L133.56 235.56L136.32 242.84L137.24 243.70L138.16 243.70M138.62 234.71L131.72 243.70M148.28 235.56L156.56 235.56M148.28 238.13L156.56 238.13M174.96 233.85L174.96 233.42L175.42 232.57L175.88 232.14L176.80 231.71L178.64 231.71L179.56 232.14L180.02 232.57L180.48 233.42L180.48 234.28L180.02 235.14L179.10 236.42L174.50 240.70L180.94 240.70M184.62 239.84L184.16 240.27L184.62 240.70L185.08 240.27L184.62 239.84M189.68 233.42L190.60 233.00L191.98 231.71L191.98 240.70M203.48 234.71L203.02 235.99L202.10 236.85L200.72 237.28L200.26 237.28L198.88 236.85L197.96 235.99L197.50 234.71L197.50 234.28L197.96 233.00L198.88 232.14L200.26 231.71L200.72 231.71L202.10 232.14L203.02 233.00L203.48 234.71L203.48 236.85L203.02 238.99L202.10 240.27L200.72 240.70L199.80 240.70L198.42 240.27L197.96 239.42M209.00 231.71L207.62 232.14L207.16 233.00L207.16 233.85L207.62 234.71L208.54 235.14L210.38 235.56L211.76 235.99L212.68 236.85L213.14 237.70L213.14 238.99L212.68 239.84L212.22 240.27L210.84 240.70L209.00 240.70L207.62 240.27L207.16 239.84L206.70 238.99L206.70 237.70L207.16 236.85L208.08 235.99L209.46 235.56L211.30 235.14L212.22 234.71L212.68 233.85L212.68 233.00L212.22 232.14L210.84 231.71L209.00 231.71M223.72 229.57L223.72 244.12M224.18 229.57L224.18 244.12M223.72 229.57L226.94 229.57M223.72 244.12L226.94 244.12M229.70 237.28L235.22 237.28L235.22 236.42L234.76 235.56L234.30 235.14L233.38 234.71L232.00 234.71L231.08 235.14L230.16 235.99L229.70 237.28L229.70 238.13L230.16 239.42L231.08 240.27L232.00 240.70L233.38 240.70L234.30 240.27L235.22 239.42M237.06 231.71L240.74 240.70M244.42 231.71L240.74 240.70M249.02 229.57L249.02 244.12M249.48 229.57L249.48 244.12M246.26 229.57L249.48 229.57M246.26 244.12L249.48 244.12M132.64 256.91L132.64 265.90M138.16 259.91L137.24 260.34L136.32 261.19L135.86 262.48L135.86 263.33L136.32 264.62L137.24 265.47L138.16 265.90L139.54 265.90L140.46 265.47L141.38 264.62L141.84 263.33L141.84 262.48L141.38 261.19L140.46 260.34L139.54 259.91L138.16 259.91M150.12 259.91L150.12 266.76L149.66 268.04L149.20 268.47L148.28 268.90L146.90 268.90L145.98 268.47M150.12 261.19L149.20 260.34L148.28 259.91L146.90 259.91L145.98 260.34L145.06 261.19L144.60 262.48L144.60 263.33L145.06 264.62L145.98 265.47L146.90 265.90L148.28 265.90L149.20 265.47L150.12 264.62M166.22 259.91L166.22 266.76L165.76 268.04L165.30 268.47L164.38 268.90L163.00 268.90L162.08 268.47M166.22 261.19L165.30 260.34L164.38 259.91L163.00 259.91L162.08 260.34L161.16 261.19L160.70 262.48L160.70 263.33L161.16 264.62L162.08 265.47L163.00 265.90L164.38 265.90L165.30 265.47L166.22 264.62M172.66 256.91L171.74 256.91L170.82 257.34L170.36 258.62L170.36 265.90M168.98 259.91L172.20 259.91M182.78 260.76L191.06 260.76M182.78 263.33L191.06 263.33M202.10 262.05L210.38 262.05M214.06 259.05L214.06 258.62L214.52 257.77L214.98 257.34L215.90 256.91L217.74 256.91L218.66 257.34L219.12 257.77L219.58 258.62L219.58 259.48L219.12 260.34L218.20 261.62L213.60 265.90L220.04 265.90M223.72 265.04L223.26 265.47L223.72 265.90L224.18 265.47L223.72 265.04M232.00 256.91L227.40 262.90L234.30 262.90M232.00 256.91L232.00 265.90M237.52 256.91L242.58 256.91L239.82 260.34L241.20 260.34L242.12 260.76L242.58 261.19L243.04 262.48L243.04 263.33L242.58 264.62L241.66 265.47L240.28 265.90L238.90 265.90L237.52 265.47L237.06 265.04L236.60 264.19M246.72 256.91L251.78 256.91L249.02 260.34L250.40 260.34L251.32 260.76L251.78 261.19L252.24 262.48L252.24 263.33L251.78 264.62L250.86 265.47L249.48 265.90L248.10 265.90L246.72 265.47L246.26 265.04L245.80 264.19M132.64 282.81L132.64 291.80M138.16 285.81L137.24 286.24L136.32 287.09L135.86 288.38L135.86 289.23L136.32 290.52L137.24 291.37L138.16 291.80L139.54 291.80L140.46 291.37L141.38 290.52L141.84 289.23L141.84 288.38L141.38 287.09L140.46 286.24L139.54 285.81L138.16 285.81M150.12 285.81L150.12 292.66L149.66 293.94L149.20 294.37L148.28 294.80L146.90 294.80L145.98 294.37M150.12 287.09L149.20 286.24L148.28 285.81L146.90 285.81L145.98 286.24L145.06 287.09L144.60 288.38L144.60 289.23L145.06 290.52L145.98 291.37L146.90 291.80L148.28 291.80L149.20 291.37L150.12 290.52M165.30 285.81L163.92 285.81L162.54 286.24L161.62 287.09L161.16 288.38L161.16 289.23L161.62 290.52L162.54 291.37L163.92 291.80L165.30 291.80M161.16 288.80L164.38 288.80M175.88 286.66L184.16 286.66M175.88 289.23L184.16 289.23M208.54 282.81L203.94 291.80M202.10 282.81L208.54 282.81M212.22 290.94L211.76 291.37L212.22 291.80L212.68 291.37L212.22 290.94M220.50 282.81L215.90 288.80L222.80 288.80M220.50 282.81L220.50 291.80M230.62 282.81L226.02 282.81L225.56 286.66L226.02 286.24L227.40 285.81L228.78 285.81L230.16 286.24L231.08 287.09L231.54 288.38L231.54 289.23L231.08 290.52L230.16 291.37L228.78 291.80L227.40 291.80L226.02 291.37L225.56 290.94L225.10 290.09M237.06 282.81L235.68 283.24L234.76 284.52L234.30 286.66L234.30 287.95L234.76 290.09L235.68 291.37L237.06 291.80L237.98 291.80L239.36 291.37L240.28 290.09L240.74 287.95L240.74 286.66L240.28 284.52L239.36 283.24L237.98 282.81L237.06 282.81" stroke="#000" stroke-opacity="0.66" stroke-width="0.95" fill="none" stroke-linecap="round" stroke-linejoin="round"/>
<path d="M71.40 74.5h2.2M76.90 74.5h2.2M82.40 74.5h2.2M87.90 74.5h2.2M93.40 74.5h2.2M98.90 74.5h2.2M104.40 74.5h2.2M109.90 74.5h2.2M115.40 74.5h2.2M120.90 74.5h2.2M126.40 74.5h2.2M131.90 74.5h2.2M137.40 74.5h2.2M142.90 74.5h2.2M148.40 74.5h2.2M153.90 74.5h2.2M159.40 74.5h2.2M164.90 74.5h2.2M170.40 74.5h2.2M175.90 74.5h2.2M181.40 74.5h2.2M186.90 74.5h2.2M192.40 74.5h2.2M197.90 74.5h2.2M203.40 74.5h2.2M208.90 74.5h2.2M214.40 74.5h2.2M219.90 74.5h2.2M225.40 74.5h2.2M230.90 74.5h2.2M236.40 74.5h2.2M241.90 74.5h2.2M247.40 74.5h2.2M252.90 74.5h2.2M258.40 74.5h2.2M263.90 74.5h2.2M269.40 74.5h2.2M274.90 74.5h2.2M280.40 74.5h2.2M285.90 74.5h2.2M291.40 74.5h2.2M296.90 74.5h2.2M302.40 74.5h2.2M307.90 74.5h2.2M313.40 74.5h2.2M318.90 74.5h2.2M324.40 74.5h2.2M329.90 74.5h2.2M335.40 74.5h2.2M340.90 74.5h2.2M346.40 74.5h2.2M351.90 74.5h2.2M357.40 74.5h2.2M362.90 74.5h2.2M368.40 74.5h2.2M373.90 74.5h2.2M379.40 74.5h2.2M384.90 74.5h2.2M390.40 74.5h2.2M395.90 74.5h2.2M401.40 74.5h2.2M406.90 74.5h2.2M412.40 74.5h2.2M417.90 74.5h2.2M423.40 74.5h2.2M428.90 74.5h2.2M434.40 74.5h2.2M439.90 74.5h2.2M445.40 74.5h2.2M450.90 74.5h2.2M456.40 74.5h2.2M461.90 74.5h2.2M467.40 74.5h2.2M472.90 74.5h2.2M478.40 74.5h2.2M483.90 74.5h2.2M489.40 74.5h2.2M494.90 74.5h2.2M500.40 74.5h2.2M505.90 74.5h2.2M511.40 74.5h2.2M516.90 74.5h2.2M522.40 74.5h2.2M527.90 74.5h2.2M533.40 74.5h2.2M538.90 74.5h2.2M544.40 74.5h2.2M549.90 74.5h2.2M555.40 74.5h2.2M560.90 74.5h2.2M566.40 74.5h2.2M571.90 74.5h2.2M577.40 74.5h2.2M582.90 74.5h2.2M588.40 74.5h2.2M593.90 74.5h2.2M599.40 74.5h2.2M604.90 74.5h2.2M610.40 74.5h2.2M615.90 74.5h2.2M621.40 74.5h2.2M626.90 74.5h2.2M632.40 74.5h2.2M637.90 74.5h2.2M643.40 74.5h2.2M648.90 74.5h2.2M654.40 74.5h2.2M659.90 74.5h2.2M665.40 74.5h2.2M670.90 74.5h2.2" stroke="#000" stroke-opacity="0.52" stroke-width="1" fill="none"/>
<g clip-path="url(#cm)"><path d="M65.9 75.5l4.2 -3.8l4.2 3.8l-4.2 3.8zM70.1 75.5l4.2 -3.8l4.2 3.8l-4.2 3.8zM74.4 75.5l4.2 -3.8l4.2 3.8l-4.2 3.8zM78.6 75.6l4.2 -3.8l4.2 3.8l-4.2 3.8zM82.9 75.7l4.2 -3.8l4.2 3.8l-4.2 3.8zM87.1 75.8l4.2 -3.8l4.2 3.8l-4.2 3.8zM91.4 75.9l4.2 -3.8l4.2 3.8l-4.2 3.8zM95.6 75.9l4.2 -3.8l4.2 3.8l-4.2 3.8zM99.9 75.8l4.2 -3.8l4.2 3.8l-4.2 3.8zM104.1 75.8l4.2 -3.8l4.2 3.8l-4.2 3.8zM108.4 75.8l4.2 -3.8l4.2 3.8l-4.2 3.8zM112.6 75.9l4.2 -3.8l4.2 3.8l-4.2 3.8zM116.9 76.0l4.2 -3.8l4.2 3.8l-4.2 3.8zM121.1 76.2l4.2 -3.8l4.2 3.8l-4.2 3.8zM125.4 76.2l4.2 -3.8l4.2 3.8l-4.2 3.8zM129.7 76.3l4.2 -3.8l4.2 3.8l-4.2 3.8zM133.9 76.4l4.2 -3.8l4.2 3.8l-4.2 3.8zM138.2 76.5l4.2 -3.8l4.2 3.8l-4.2 3.8zM142.4 76.6l4.2 -3.8l4.2 3.8l-4.2 3.8zM146.7 76.7l4.2 -3.8l4.2 3.8l-4.2 3.8zM150.9 76.9l4.2 -3.8l4.2 3.8l-4.2 3.8zM155.2 77.1l4.2 -3.8l4.2 3.8l-4.2 3.8zM159.4 77.1l4.2 -3.8l4.2 3.8l-4.2 3.8zM163.7 77.0l4.2 -3.8l4.2 3.8l-4.2 3.8zM167.9 77.0l4.2 -3.8l4.2 3.8l-4.2 3.8zM172.2 77.0l4.2 -3.8l4.2 3.8l-4.2 3.8zM176.4 77.1l4.2 -3.8l4.2 3.8l-4.2 3.8zM180.7 77.3l4.2 -3.8l4.2 3.8l-4.2 3.8zM184.9 77.7l4.2 -3.8l4.2 3.8l-4.2 3.8zM189.2 78.0l4.2 -3.8l4.2 3.8l-4.2 3.8zM193.4 78.2l4.2 -3.8l4.2 3.8l-4.2 3.8zM197.7 78.5l4.2 -3.8l4.2 3.8l-4.2 3.8zM201.9 78.8l4.2 -3.8l4.2 3.8l-4.2 3.8zM206.2 79.2l4.2 -3.8l4.2 3.8l-4.2 3.8zM210.4 79.8l4.2 -3.8l4.2 3.8l-4.2 3.8zM214.7 80.4l4.2 -3.8l4.2 3.8l-4.2 3.8zM218.9 81.2l4.2 -3.8l4.2 3.8l-4.2 3.8zM223.2 82.1l4.2 -3.8l4.2 3.8l-4.2 3.8zM227.4 83.0l4.2 -3.8l4.2 3.8l-4.2 3.8zM231.7 84.1l4.2 -3.8l4.2 3.8l-4.2 3.8zM235.9 85.2l4.2 -3.8l4.2 3.8l-4.2 3.8zM240.2 86.6l4.2 -3.8l4.2 3.8l-4.2 3.8zM244.4 88.2l4.2 -3.8l4.2 3.8l-4.2 3.8zM248.7 90.2l4.2 -3.8l4.2 3.8l-4.2 3.8zM252.9 92.7l4.2 -3.8l4.2 3.8l-4.2 3.8zM257.2 96.5l4.2 -3.8l4.2 3.8l-4.2 3.8zM261.4 100.2l4.2 -3.8l4.2 3.8l-4.2 3.8zM265.7 104.9l4.2 -3.8l4.2 3.8l-4.2 3.8zM269.9 110.2l4.2 -3.8l4.2 3.8l-4.2 3.8zM274.2 115.2l4.2 -3.8l4.2 3.8l-4.2 3.8zM278.4 121.6l4.2 -3.8l4.2 3.8l-4.2 3.8zM282.7 128.5l4.2 -3.8l4.2 3.8l-4.2 3.8zM286.9 135.6l4.2 -3.8l4.2 3.8l-4.2 3.8zM291.2 143.1l4.2 -3.8l4.2 3.8l-4.2 3.8zM295.4 151.2l4.2 -3.8l4.2 3.8l-4.2 3.8zM299.7 159.8l4.2 -3.8l4.2 3.8l-4.2 3.8zM303.9 168.6l4.2 -3.8l4.2 3.8l-4.2 3.8zM308.2 177.2l4.2 -3.8l4.2 3.8l-4.2 3.8zM312.4 186.0l4.2 -3.8l4.2 3.8l-4.2 3.8zM316.7 194.8l4.2 -3.8l4.2 3.8l-4.2 3.8zM320.9 204.1l4.2 -3.8l4.2 3.8l-4.2 3.8zM325.2 212.3l4.2 -3.8l4.2 3.8l-4.2 3.8zM329.4 220.2l4.2 -3.8l4.2 3.8l-4.2 3.8zM333.7 228.1l4.2 -3.8l4.2 3.8l-4.2 3.8zM337.9 235.8l4.2 -3.8l4.2 3.8l-4.2 3.8zM342.2 241.5l4.2 -3.8l4.2 3.8l-4.2 3.8zM346.4 246.4l4.2 -3.8l4.2 3.8l-4.2 3.8zM350.7 250.3l4.2 -3.8l4.2 3.8l-4.2 3.8zM354.9 253.3l4.2 -3.8l4.2 3.8l-4.2 3.8zM359.2 255.3l4.2 -3.8l4.2 3.8l-4.2 3.8zM363.4 256.8l4.2 -3.8l4.2 3.8l-4.2 3.8zM367.7 257.6l4.2 -3.8l4.2 3.8l-4.2 3.8zM371.9 256.8l4.2 -3.8l4.2 3.8l-4.2 3.8zM376.2 255.0l4.2 -3.8l4.2 3.8l-4.2 3.8zM380.4 251.7l4.2 -3.8l4.2 3.8l-4.2 3.8zM384.7 246.3l4.2 -3.8l4.2 3.8l-4.2 3.8zM388.9 239.2l4.2 -3.8l4.2 3.8l-4.2 3.8zM393.2 230.9l4.2 -3.8l4.2 3.8l-4.2 3.8zM397.4 221.6l4.2 -3.8l4.2 3.8l-4.2 3.8zM401.7 211.6l4.2 -3.8l4.2 3.8l-4.2 3.8zM405.9 201.3l4.2 -3.8l4.2 3.8l-4.2 3.8zM410.2 189.6l4.2 -3.8l4.2 3.8l-4.2 3.8zM414.4 177.7l4.2 -3.8l4.2 3.8l-4.2 3.8zM418.7 166.0l4.2 -3.8l4.2 3.8l-4.2 3.8zM422.9 154.8l4.2 -3.8l4.2 3.8l-4.2 3.8zM427.2 144.5l4.2 -3.8l4.2 3.8l-4.2 3.8zM431.4 135.4l4.2 -3.8l4.2 3.8l-4.2 3.8zM435.7 127.2l4.2 -3.8l4.2 3.8l-4.2 3.8zM439.9 119.8l4.2 -3.8l4.2 3.8l-4.2 3.8zM444.2 114.0l4.2 -3.8l4.2 3.8l-4.2 3.8zM448.4 109.2l4.2 -3.8l4.2 3.8l-4.2 3.8zM452.7 105.1l4.2 -3.8l4.2 3.8l-4.2 3.8zM456.9 101.2l4.2 -3.8l4.2 3.8l-4.2 3.8zM461.2 97.7l4.2 -3.8l4.2 3.8l-4.2 3.8zM465.4 95.0l4.2 -3.8l4.2 3.8l-4.2 3.8zM469.7 92.8l4.2 -3.8l4.2 3.8l-4.2 3.8zM473.9 90.8l4.2 -3.8l4.2 3.8l-4.2 3.8zM478.2 89.1l4.2 -3.8l4.2 3.8l-4.2 3.8zM482.4 87.7l4.2 -3.8l4.2 3.8l-4.2 3.8zM486.7 86.3l4.2 -3.8l4.2 3.8l-4.2 3.8zM490.9 85.0l4.2 -3.8l4.2 3.8l-4.2 3.8zM495.2 84.0l4.2 -3.8l4.2 3.8l-4.2 3.8zM499.4 83.0l4.2 -3.8l4.2 3.8l-4.2 3.8zM503.7 82.1l4.2 -3.8l4.2 3.8l-4.2 3.8zM507.9 81.4l4.2 -3.8l4.2 3.8l-4.2 3.8zM512.1 80.8l4.2 -3.8l4.2 3.8l-4.2 3.8zM516.4 80.4l4.2 -3.8l4.2 3.8l-4.2 3.8zM520.6 80.0l4.2 -3.8l4.2 3.8l-4.2 3.8zM524.9 79.7l4.2 -3.8l4.2 3.8l-4.2 3.8zM529.1 79.5l4.2 -3.8l4.2 3.8l-4.2 3.8zM533.4 79.2l4.2 -3.8l4.2 3.8l-4.2 3.8zM537.6 79.1l4.2 -3.8l4.2 3.8l-4.2 3.8zM541.9 78.9l4.2 -3.8l4.2 3.8l-4.2 3.8zM546.1 78.7l4.2 -3.8l4.2 3.8l-4.2 3.8zM550.4 78.6l4.2 -3.8l4.2 3.8l-4.2 3.8zM554.6 78.4l4.2 -3.8l4.2 3.8l-4.2 3.8zM558.9 78.3l4.2 -3.8l4.2 3.8l-4.2 3.8zM563.1 78.1l4.2 -3.8l4.2 3.8l-4.2 3.8zM567.4 77.9l4.2 -3.8l4.2 3.8l-4.2 3.8zM571.6 77.7l4.2 -3.8l4.2 3.8l-4.2 3.8zM575.9 77.5l4.2 -3.8l4.2 3.8l-4.2 3.8zM580.1 77.3l4.2 -3.8l4.2 3.8l-4.2 3.8zM584.4 77.2l4.2 -3.8l4.2 3.8l-4.2 3.8zM588.6 77.0l4.2 -3.8l4.2 3.8l-4.2 3.8zM592.9 76.8l4.2 -3.8l4.2 3.8l-4.2 3.8zM597.1 76.7l4.2 -3.8l4.2 3.8l-4.2 3.8zM601.4 76.5l4.2 -3.8l4.2 3.8l-4.2 3.8zM605.6 76.2l4.2 -3.8l4.2 3.8l-4.2 3.8zM609.9 76.0l4.2 -3.8l4.2 3.8l-4.2 3.8zM614.1 75.8l4.2 -3.8l4.2 3.8l-4.2 3.8zM618.4 75.6l4.2 -3.8l4.2 3.8l-4.2 3.8zM622.6 75.4l4.2 -3.8l4.2 3.8l-4.2 3.8zM626.9 75.3l4.2 -3.8l4.2 3.8l-4.2 3.8zM631.1 75.3l4.2 -3.8l4.2 3.8l-4.2 3.8zM635.4 75.3l4.2 -3.8l4.2 3.8l-4.2 3.8zM639.6 75.3l4.2 -3.8l4.2 3.8l-4.2 3.8zM643.9 75.3l4.2 -3.8l4.2 3.8l-4.2 3.8zM648.1 75.3l4.2 -3.8l4.2 3.8l-4.2 3.8zM652.4 75.4l4.2 -3.8l4.2 3.8l-4.2 3.8zM656.6 75.4l4.2 -3.8l4.2 3.8l-4.2 3.8zM660.9 75.5l4.2 -3.8l4.2 3.8l-4.2 3.8zM665.1 75.7l4.2 -3.8l4.2 3.8l-4.2 3.8zM669.4 75.8l4.2 -3.8l4.2 3.8l-4.2 3.8z" stroke="#f00" stroke-width="2.4" fill="none" stroke-linejoin="miter"/>
<path d="M71.0 75.4L72.0 75.4L73.0 75.4L74.0 75.4L75.0 75.4L76.0 75.4L77.0 75.4L78.0 75.4L79.0 75.4L80.0 75.4L81.0 75.4L82.0 75.4L83.0 75.4L84.0 75.4L85.0 75.5L86.0 75.5L87.0 75.5L88.0 75.5L89.0 75.5L90.0 75.5L91.0 75.5L92.0 75.5L93.0 75.5L94.0 75.5L95.0 75.5L96.0 75.6L97.0 75.6L98.0 75.6L99.0 75.6L100.0 75.6L101.0 75.6L102.0 75.6L103.0 75.6L104.0 75.7L105.0 75.7L106.0 75.7L107.0 75.7L108.0 75.7L109.0 75.7L110.0 75.8L111.0 75.8L112.0 75.8L113.0 75.8L114.0 75.9L115.0 75.9L116.0 75.9L117.0 75.9L118.0 76.0L119.0 76.0L120.0 76.0L121.0 76.1L122.0 76.1L123.0 76.1L124.0 76.2L125.0 76.2L126.0 76.3L127.0 76.3L128.0 76.4L129.0 76.4L130.0 76.5L131.0 76.5L132.0 76.6L133.0 76.7L134.0 76.7L135.0 76.8L136.0 76.8L137.0 76.9L138.0 76.9L139.0 77.0L140.0 77.1L141.0 77.1L142.0 77.2L143.0 77.3L144.0 77.3L145.0 77.4L146.0 77.5L147.0 77.6L148.0 77.7L149.0 77.7L150.0 77.8L151.0 77.9L152.0 78.0L153.0 78.1L154.0 78.2L155.0 78.3L156.0 78.3L157.0 78.4L158.0 78.5L159.0 78.6L160.0 78.7L161.0 78.8L162.0 78.9L163.0 78.9L164.0 79.0L165.0 79.1L166.0 79.2L167.0 79.3L168.0 79.3L169.0 79.4L170.0 79.5L171.0 79.6L172.0 79.7L173.0 79.8L174.0 79.9L175.0 79.9L176.0 80.0L177.0 80.1L178.0 80.2L179.0 80.3L180.0 80.5L181.0 80.6L182.0 80.7L183.0 80.8L184.0 81.0L185.0 81.1L186.0 81.3L187.0 81.4L188.0 81.6L189.0 81.7L190.0 81.9L191.0 82.0L192.0 82.2L193.0 82.3L194.0 82.4L195.0 82.5L196.0 82.7L197.0 82.8L198.0 82.9L199.0 83.0L200.0 83.1L201.0 83.2L202.0 83.3L203.0 83.4L204.0 83.5L205.0 83.6L206.0 83.7L207.0 83.9L208.0 84.0L209.0 84.1L210.0 84.2L211.0 84.3L212.0 84.4L213.0 84.5L214.0 84.7L215.0 84.8L216.0 84.9L217.0 85.0L218.0 85.1L219.0 85.2L220.0 85.4L221.0 85.5L222.0 85.6L223.0 85.7L224.0 85.9L225.0 86.0L226.0 86.1L227.0 86.3L228.0 86.4L229.0 86.6L230.0 86.7L231.0 86.9L232.0 87.1L233.0 87.2L234.0 87.4L235.0 87.6L236.0 87.8L237.0 88.0L238.0 88.2L239.0 88.4L240.0 88.6L241.0 88.8L242.0 89.0L243.0 89.3L244.0 89.5L245.0 89.8L246.0 90.1L247.0 90.3L248.0 90.7L249.0 91.0L250.0 91.4L251.0 91.7L252.0 92.1L253.0 92.5L254.0 92.9L255.0 93.4L256.0 93.9L257.0 94.4L258.0 95.0L259.0 95.7L260.0 96.5L261.0 97.4L262.0 98.2L263.0 99.0L264.0 99.7L265.0 100.4L266.0 101.2L267.0 102.1L268.0 103.1L269.0 104.2L270.0 105.4L271.0 106.5L272.0 107.6L273.0 108.7L274.0 109.9L275.0 111.0L276.0 112.0L277.0 113.1L278.0 114.1L279.0 115.3L280.0 116.6L281.0 118.0L282.0 119.5L283.0 121.0L284.0 122.6L285.0 124.1L286.0 125.6L287.0 127.2L288.0 128.7L289.0 130.3L290.0 131.9L291.0 133.6L292.0 135.2L293.0 136.9L294.0 138.6L295.0 140.3L296.0 142.0L297.0 143.8L298.0 145.6L299.0 147.4L300.0 149.3L301.0 151.3L302.0 153.3L303.0 155.3L304.0 157.4L305.0 159.5L306.0 161.6L307.0 163.8L308.0 166.0L309.0 168.2L310.0 170.5L311.0 172.7L312.0 175.0L313.0 177.2L314.0 179.5L315.0 181.7L316.0 184.0L317.0 186.2L318.0 188.5L319.0 190.7L320.0 193.0L321.0 195.2L322.0 197.6L323.0 199.9L324.0 202.2L325.0 204.5L326.0 206.7L327.0 208.9L328.0 210.9L329.0 212.9L330.0 214.8L331.0 216.8L332.0 218.7L333.0 220.7L334.0 222.7L335.0 224.8L336.0 226.8L337.0 228.8L338.0 230.6L339.0 232.5L340.0 234.4L341.0 236.2L342.0 237.9L343.0 239.5L344.0 240.8L345.0 242.1L346.0 243.2L347.0 244.4L348.0 245.4L349.0 246.4L350.0 247.3L351.0 248.1L352.0 248.9L353.0 249.6L354.0 250.3L355.0 251.0L356.0 251.7L357.0 252.2L358.0 252.8L359.0 253.3L360.0 253.7L361.0 254.0L362.0 254.2L363.0 254.5L364.0 254.7L365.0 255.0L366.0 255.2L367.0 255.3L368.0 255.5L369.0 255.6L370.0 255.7L371.0 255.7L372.0 255.7L373.0 255.5L374.0 255.3L375.0 255.1L376.0 254.8L377.0 254.4L378.0 254.0L379.0 253.5L380.0 253.1L381.0 252.6L382.0 252.0L383.0 251.3L384.0 250.4L385.0 249.3L386.0 248.2L387.0 247.0L388.0 245.8L389.0 244.5L390.0 243.2L391.0 241.7L392.0 240.1L393.0 238.5L394.0 236.8L395.0 235.1L396.0 233.3L397.0 231.4L398.0 229.4L399.0 227.3L400.0 225.2L401.0 223.1L402.0 220.9L403.0 218.7L404.0 216.4L405.0 214.0L406.0 211.6L407.0 209.3L408.0 206.9L409.0 204.5L410.0 202.0L411.0 199.5L412.0 196.8L413.0 193.9L414.0 191.1L415.0 188.3L416.0 185.5L417.0 182.7L418.0 179.8L419.0 177.0L420.0 174.2L421.0 171.5L422.0 168.7L423.0 166.0L424.0 163.3L425.0 160.7L426.0 158.1L427.0 155.5L428.0 152.9L429.0 150.4L430.0 148.0L431.0 145.6L432.0 143.3L433.0 141.0L434.0 138.8L435.0 136.8L436.0 135.0L437.0 133.1L438.0 131.2L439.0 129.3L440.0 127.4L441.0 125.6L442.0 123.9L443.0 122.3L444.0 120.9L445.0 119.5L446.0 118.2L447.0 116.9L448.0 115.7L449.0 114.5L450.0 113.3L451.0 112.2L452.0 111.2L453.0 110.2L454.0 109.2L455.0 108.2L456.0 107.3L457.0 106.3L458.0 105.4L459.0 104.5L460.0 103.6L461.0 102.7L462.0 101.9L463.0 101.1L464.0 100.3L465.0 99.6L466.0 98.9L467.0 98.3L468.0 97.6L469.0 97.0L470.0 96.4L471.0 95.9L472.0 95.3L473.0 94.8L474.0 94.3L475.0 93.8L476.0 93.3L477.0 92.8L478.0 92.4L479.0 91.9L480.0 91.5L481.0 91.1L482.0 90.7L483.0 90.3L484.0 89.9L485.0 89.6L486.0 89.2L487.0 88.9L488.0 88.5L489.0 88.2L490.0 87.9L491.0 87.5L492.0 87.2L493.0 86.9L494.0 86.6L495.0 86.2L496.0 85.9L497.0 85.6L498.0 85.4L499.0 85.1L500.0 84.8L501.0 84.6L502.0 84.3L503.0 84.1L504.0 83.8L505.0 83.6L506.0 83.4L507.0 83.2L508.0 82.9L509.0 82.7L510.0 82.5L511.0 82.4L512.0 82.2L513.0 82.0L514.0 81.9L515.0 81.8L516.0 81.6L517.0 81.5L518.0 81.4L519.0 81.3L520.0 81.2L521.0 81.1L522.0 80.9L523.0 80.9L524.0 80.8L525.0 80.7L526.0 80.6L527.0 80.5L528.0 80.4L529.0 80.3L530.0 80.3L531.0 80.2L532.0 80.1L533.0 80.0L534.0 80.0L535.0 79.9L536.0 79.8L537.0 79.8L538.0 79.7L539.0 79.7L540.0 79.6L541.0 79.5L542.0 79.5L543.0 79.4L544.0 79.4L545.0 79.3L546.0 79.3L547.0 79.2L548.0 79.2L549.0 79.1L550.0 79.1L551.0 79.0L552.0 79.0L553.0 79.0L554.0 78.9L555.0 78.9L556.0 78.8L557.0 78.8L558.0 78.7L559.0 78.7L560.0 78.7L561.0 78.6L562.0 78.6L563.0 78.6L564.0 78.5L565.0 78.5L566.0 78.5L567.0 78.4L568.0 78.4L569.0 78.4L570.0 78.3L571.0 78.3L572.0 78.3L573.0 78.3L574.0 78.2L575.0 78.2L576.0 78.2L577.0 78.2L578.0 78.2L579.0 78.1L580.0 78.1L581.0 78.1L582.0 78.1L583.0 78.1L584.0 78.1L585.0 78.1L586.0 78.1L587.0 78.1L588.0 78.0L589.0 78.0L590.0 78.0L591.0 78.0L592.0 78.0L593.0 78.0L594.0 78.0L595.0 78.0L596.0 78.0L597.0 78.0L598.0 78.0L599.0 78.0L600.0 78.0L601.0 78.0L602.0 78.0L603.0 78.0L604.0 78.0L605.0 78.0L606.0 78.0L607.0 78.0L608.0 78.0L609.0 78.0L610.0 78.0L611.0 78.0L612.0 78.1L613.0 78.1L614.0 78.1L615.0 78.1L616.0 78.1L617.0 78.1L618.0 78.1L619.0 78.1L620.0 78.1L621.0 78.1L622.0 78.1L623.0 78.1L624.0 78.2L625.0 78.2L626.0 78.2L627.0 78.2L628.0 78.2L629.0 78.2L630.0 78.2L631.0 78.2L632.0 78.2L633.0 78.2L634.0 78.2L635.0 78.2L636.0 78.2L637.0 78.2L638.0 78.3L639.0 78.3L640.0 78.3L641.0 78.3L642.0 78.3L643.0 78.3L644.0 78.3L645.0 78.3L646.0 78.3L647.0 78.3L648.0 78.3L649.0 78.3L650.0 78.3L651.0 78.3L652.0 78.3L653.0 78.4L654.0 78.4L655.0 78.4L656.0 78.4L657.0 78.4L658.0 78.4L659.0 78.4L660.0 78.4L661.0 78.4L662.0 78.4L663.0 78.4L664.0 78.4L665.0 78.4L666.0 78.4L667.0 78.5L668.0 78.5L669.0 78.5L670.0 78.5L671.0 78.5L672.0 78.5L673.0 78.5" stroke="#00f" stroke-width="2.8" fill="none" stroke-linejoin="round"/>
<path d="M71.0 75.3L72.0 75.3L73.0 75.3L74.0 75.3L75.0 75.3L76.0 75.3L77.0 75.3L78.0 75.3L79.0 75.3L80.0 75.3L81.0 75.3L82.0 75.3L83.0 75.4L84.0 75.4L85.0 75.4L86.0 75.4L87.0 75.4L88.0 75.4L89.0 75.4L90.0 75.4L91.0 75.4L92.0 75.4L93.0 75.4L94.0 75.4L95.0 75.5L96.0 75.5L97.0 75.5L98.0 75.5L99.0 75.5L100.0 75.5L101.0 75.5L102.0 75.5L103.0 75.5L104.0 75.5L105.0 75.6L106.0 75.6L107.0 75.6L108.0 75.6L109.0 75.6L110.0 75.6L111.0 75.6L112.0 75.7L113.0 75.7L114.0 75.7L115.0 75.7L116.0 75.7L117.0 75.7L118.0 75.8L119.0 75.8L120.0 75.8L121.0 75.8L122.0 75.8L123.0 75.9L124.0 75.9L125.0 75.9L126.0 75.9L127.0 75.9L128.0 76.0L129.0 76.0L130.0 76.0L131.0 76.0L132.0 76.0L133.0 76.1L134.0 76.1L135.0 76.1L136.0 76.1L137.0 76.2L138.0 76.2L139.0 76.2L140.0 76.2L141.0 76.2L142.0 76.3L143.0 76.3L144.0 76.3L145.0 76.3L146.0 76.4L147.0 76.4L148.0 76.4L149.0 76.4L150.0 76.5L151.0 76.5L152.0 76.5L153.0 76.5L154.0 76.6L155.0 76.6L156.0 76.6L157.0 76.6L158.0 76.7L159.0 76.7L160.0 76.7L161.0 76.7L162.0 76.7L163.0 76.8L164.0 76.8L165.0 76.8L166.0 76.8L167.0 76.8L168.0 76.8L169.0 76.9L170.0 76.9L171.0 76.9L172.0 76.9L173.0 76.9L174.0 76.9L175.0 77.0L176.0 77.0L177.0 77.0L178.0 77.0L179.0 77.0L180.0 77.0L181.0 77.0L182.0 77.1L183.0 77.1L184.0 77.1L185.0 77.1L186.0 77.1L187.0 77.1L188.0 77.2L189.0 77.2L190.0 77.2L191.0 77.2L192.0 77.3L193.0 77.3L194.0 77.3L195.0 77.3L196.0 77.4L197.0 77.4L198.0 77.4L199.0 77.4L200.0 77.5L201.0 77.5L202.0 77.5L203.0 77.6L204.0 77.6L205.0 77.6L206.0 77.6L207.0 77.7L208.0 77.7L209.0 77.8L210.0 77.8L211.0 77.8L212.0 77.9L213.0 77.9L214.0 78.0L215.0 78.0L216.0 78.0L217.0 78.1L218.0 78.1L219.0 78.2L220.0 78.2L221.0 78.3L222.0 78.3L223.0 78.4L224.0 78.5L225.0 78.5L226.0 78.6L227.0 78.6L228.0 78.7L229.0 78.8L230.0 78.9L231.0 79.0L232.0 79.1L233.0 79.2L234.0 79.3L235.0 79.4L236.0 79.5L237.0 79.7L238.0 79.8L239.0 80.0L240.0 80.1L241.0 80.3L242.0 80.4L243.0 80.5L244.0 80.7L245.0 80.8L246.0 81.0L247.0 81.2L248.0 81.3L249.0 81.5L250.0 81.7L251.0 81.9L252.0 82.1L253.0 82.3L254.0 82.6L255.0 82.8L256.0 83.1L257.0 83.3L258.0 83.6L259.0 83.9L260.0 84.1L261.0 84.4L262.0 84.7L263.0 85.0L264.0 85.3L265.0 85.6L266.0 85.9L267.0 86.3L268.0 86.7L269.0 87.0L270.0 87.5L271.0 87.9L272.0 88.4L273.0 89.0L274.0 89.6L275.0 90.3L276.0 91.0L277.0 91.8L278.0 92.7L279.0 93.6L280.0 94.7L281.0 95.8L282.0 97.1L283.0 98.3L284.0 99.6L285.0 101.0L286.0 102.5L287.0 104.0L288.0 105.6L289.0 107.4L290.0 109.2L291.0 111.1L292.0 113.2L293.0 115.5L294.0 117.9L295.0 120.4L296.0 122.9L297.0 125.5L298.0 128.1L299.0 130.9L300.0 133.6L301.0 136.5L302.0 139.4L303.0 142.4L304.0 145.5L305.0 148.5L306.0 151.5L307.0 154.3L308.0 157.1L309.0 159.9L310.0 162.7L311.0 165.6L312.0 168.6L313.0 171.5L314.0 174.5L315.0 177.6L316.0 180.7L317.0 183.8L318.0 187.0L319.0 190.2L320.0 193.4L321.0 196.6L322.0 199.8L323.0 203.0L324.0 206.2L325.0 209.6L326.0 212.9L327.0 216.2L328.0 219.2L329.0 221.9L330.0 224.4L331.0 226.7L332.0 228.8L333.0 230.8L334.0 232.7L335.0 234.5L336.0 236.3L337.0 238.0L338.0 239.5L339.0 241.0L340.0 242.4L341.0 243.8L342.0 245.1L343.0 246.4L344.0 247.6L345.0 248.7L346.0 249.7L347.0 250.6L348.0 251.3L349.0 252.1L350.0 252.8L351.0 253.5L352.0 254.2L353.0 254.8L354.0 255.3L355.0 255.8L356.0 256.3L357.0 256.6L358.0 257.0L359.0 257.3L360.0 257.6L361.0 257.9L362.0 258.2L363.0 258.4L364.0 258.6L365.0 258.8L366.0 258.9L367.0 259.0L368.0 259.0L369.0 259.0L370.0 259.0L371.0 258.9L372.0 258.9L373.0 258.8L374.0 258.8L375.0 258.7L376.0 258.6L377.0 258.6L378.0 258.5L379.0 258.3L380.0 258.1L381.0 257.9L382.0 257.6L383.0 257.2L384.0 256.8L385.0 256.4L386.0 256.0L387.0 255.6L388.0 255.1L389.0 254.6L390.0 254.0L391.0 253.4L392.0 252.7L393.0 252.0L394.0 251.3L395.0 250.6L396.0 249.8L397.0 248.9L398.0 248.1L399.0 247.1L400.0 246.1L401.0 245.0L402.0 243.9L403.0 242.7L404.0 241.3L405.0 239.8L406.0 238.1L407.0 236.3L408.0 234.5L409.0 232.5L410.0 230.5L411.0 228.4L412.0 226.1L413.0 223.7L414.0 221.3L415.0 218.8L416.0 216.5L417.0 214.2L418.0 211.8L419.0 209.3L420.0 206.6L421.0 203.6L422.0 200.6L423.0 197.6L424.0 194.5L425.0 191.5L426.0 188.5L427.0 185.8L428.0 183.0L429.0 180.2L430.0 177.2L431.0 174.1L432.0 170.9L433.0 167.5L434.0 163.8L435.0 159.9L436.0 156.1L437.0 152.6L438.0 149.4L439.0 146.4L440.0 143.6L441.0 140.8L442.0 138.3L443.0 136.0L444.0 133.7L445.0 131.4L446.0 128.7L447.0 125.5L448.0 122.3L449.0 119.4L450.0 116.6L451.0 113.9L452.0 111.6L453.0 109.5L454.0 107.6L455.0 105.8L456.0 104.2L457.0 102.6L458.0 101.0L459.0 99.6L460.0 98.3L461.0 97.1L462.0 96.0L463.0 95.0L464.0 94.0L465.0 93.1L466.0 92.3L467.0 91.6L468.0 90.8L469.0 90.2L470.0 89.6L471.0 89.0L472.0 88.5L473.0 88.0L474.0 87.5L475.0 87.0L476.0 86.6L477.0 86.2L478.0 85.8L479.0 85.4L480.0 85.1L481.0 84.8L482.0 84.5L483.0 84.2L484.0 83.9L485.0 83.6L486.0 83.4L487.0 83.1L488.0 82.8L489.0 82.6L490.0 82.3L491.0 82.1L492.0 81.9L493.0 81.7L494.0 81.6L495.0 81.4L496.0 81.2L497.0 81.1L498.0 80.9L499.0 80.7L500.0 80.6L501.0 80.4L502.0 80.2L503.0 80.0L504.0 79.9L505.0 79.7L506.0 79.5L507.0 79.4L508.0 79.2L509.0 79.1L510.0 78.9L511.0 78.8L512.0 78.7L513.0 78.6L514.0 78.5L515.0 78.4L516.0 78.3L517.0 78.3L518.0 78.2L519.0 78.1L520.0 78.1L521.0 78.0L522.0 77.9L523.0 77.9L524.0 77.8L525.0 77.8L526.0 77.7L527.0 77.7L528.0 77.6L529.0 77.6L530.0 77.5L531.0 77.5L532.0 77.4L533.0 77.4L534.0 77.3L535.0 77.3L536.0 77.2L537.0 77.2L538.0 77.1L539.0 77.1L540.0 77.1L541.0 77.0L542.0 77.0L543.0 76.9L544.0 76.9L545.0 76.9L546.0 76.8L547.0 76.8L548.0 76.8L549.0 76.8L550.0 76.8L551.0 76.7L552.0 76.7L553.0 76.7L554.0 76.7L555.0 76.7L556.0 76.7L557.0 76.7L558.0 76.7L559.0 76.7L560.0 76.6L561.0 76.6L562.0 76.6L563.0 76.6L564.0 76.6L565.0 76.6L566.0 76.6L567.0 76.6L568.0 76.6L569.0 76.5L570.0 76.5L571.0 76.5L572.0 76.5L573.0 76.5L574.0 76.5L575.0 76.5L576.0 76.5L577.0 76.4L578.0 76.4L579.0 76.4L580.0 76.4L581.0 76.4L582.0 76.4L583.0 76.4L584.0 76.4L585.0 76.4L586.0 76.4L587.0 76.4L588.0 76.4L589.0 76.4L590.0 76.4L591.0 76.3L592.0 76.3L593.0 76.3L594.0 76.3L595.0 76.3L596.0 76.3L597.0 76.3L598.0 76.3L599.0 76.3L600.0 76.3L601.0 76.3L602.0 76.3L603.0 76.3L604.0 76.2L605.0 76.2L606.0 76.2L607.0 76.2L608.0 76.2L609.0 76.2L610.0 76.2L611.0 76.2L612.0 76.1L613.0 76.1L614.0 76.1L615.0 76.1L616.0 76.1L617.0 76.1L618.0 76.1L619.0 76.0L620.0 76.0L621.0 76.0L622.0 76.0L623.0 76.0L624.0 76.0L625.0 76.0L626.0 76.0L627.0 75.9L628.0 75.9L629.0 75.9L630.0 75.9L631.0 75.9L632.0 75.9L633.0 75.9L634.0 75.9L635.0 75.8L636.0 75.8L637.0 75.8L638.0 75.8L639.0 75.8L640.0 75.8L641.0 75.8L642.0 75.8L643.0 75.7L644.0 75.7L645.0 75.7L646.0 75.7L647.0 75.7L648.0 75.7L649.0 75.7L650.0 75.7L651.0 75.7L652.0 75.6L653.0 75.6L654.0 75.6L655.0 75.6L656.0 75.6L657.0 75.6L658.0 75.6L659.0 75.6L660.0 75.5L661.0 75.5L662.0 75.5L663.0 75.5L664.0 75.5L665.0 75.5L666.0 75.5L667.0 75.5L668.0 75.5L669.0 75.4L670.0 75.4L671.0 75.4L672.0 75.4L673.0 75.4" stroke="#0f0" stroke-width="2.6" fill="none" stroke-linejoin="round"/></g>
<path d="M71.0 377.5H673.6" stroke="#000" stroke-opacity="0.62" stroke-width="1" stroke-dasharray="8.5 7.3" stroke-dashoffset="0.7"  fill="none"/>
<g clip-path="url(#cr)" stroke="#000" stroke-opacity="0.62" stroke-width="0.8" fill="none"><path d="M66.5 376.3h9.0M71.0 371.8v9.0M72.9 376.2h9.0M77.4 371.7v9.0M79.3 376.3h9.0M83.8 371.8v9.0M85.6 375.0h9.0M90.1 370.5v9.0M92.0 374.2h9.0M96.5 369.7v9.0M98.4 375.9h9.0M102.9 371.4v9.0M104.8 377.2h9.0M109.3 372.7v9.0M111.1 377.4h9.0M115.6 372.9v9.0M117.5 377.8h9.0M122.0 373.3v9.0M123.9 379.1h9.0M128.4 374.6v9.0M130.3 381.3h9.0M134.8 376.8v9.0M136.6 383.8h9.0M141.1 379.3v9.0M143.0 386.8h9.0M147.5 382.3v9.0M149.4 389.3h9.0M153.9 384.8v9.0M155.8 392.4h9.0M160.3 387.9v9.0M162.1 397.7h9.0M166.6 393.2v9.0M168.5 402.9h9.0M173.0 398.4v9.0M174.9 407.8h9.0M179.4 403.3v9.0M181.3 412.9h9.0M185.8 408.4v9.0M187.6 416.8h9.0M192.1 412.3v9.0M194.0 420.3h9.0M198.5 415.8v9.0M200.4 422.8h9.0M204.9 418.3v9.0M206.8 423.7h9.0M211.3 419.2v9.0M213.1 421.9h9.0M217.6 417.4v9.0M219.5 418.5h9.0M224.0 414.0v9.0M225.9 414.4h9.0M230.4 409.9v9.0M232.3 410.8h9.0M236.8 406.3v9.0M238.6 406.1h9.0M243.1 401.6v9.0M245.0 400.9h9.0M249.5 396.4v9.0M251.4 394.6h9.0M255.9 390.1v9.0M257.6 388.5h9.0M262.1 384.0v9.0M264.1 381.1h9.0M268.6 376.6v9.0M271.7 371.0h9.0M276.2 366.5v9.0M276.2 370.8h9.0M280.7 366.3v9.0M282.9 364.1h9.0M287.4 359.6v9.0M289.6 357.0h9.0M294.1 352.5v9.0M296.7 352.6h9.0M301.2 348.1v9.0M301.5 353.0h9.0M306.0 348.5v9.0M308.5 366.2h9.0M313.0 361.7v9.0M315.4 378.6h9.0M319.9 374.1v9.0M322.1 383.4h9.0M326.6 378.9v9.0M327.5 390.4h9.0M332.0 385.9v9.0M334.0 398.9h9.0M338.5 394.4v9.0M340.8 398.1h9.0M345.3 393.6v9.0M347.0 388.9h9.0M351.5 384.4v9.0M353.4 379.6h9.0M357.9 375.1v9.0M359.8 368.8h9.0M364.3 364.3v9.0M366.1 360.6h9.0M370.6 356.1v9.0M372.5 358.8h9.0M377.0 354.3v9.0M378.9 359.3h9.0M383.4 354.8v9.0M385.3 364.4h9.0M389.8 359.9v9.0M387.4 366.5h9.0M391.9 362.0v9.0M392.2 379.3h9.0M396.7 374.8v9.0M399.8 380.3h9.0M404.3 375.8v9.0M407.0 390.5h9.0M411.5 386.0v9.0M412.2 370.3h9.0M416.7 365.8v9.0M418.4 376.5h9.0M422.9 372.0v9.0M424.6 380.6h9.0M429.1 376.1v9.0M432.3 377.9h9.0M436.8 373.4v9.0M437.0 383.0h9.0M441.5 378.5v9.0M441.5 384.0h9.0M446.0 379.5v9.0M445.9 388.5h9.0M450.4 384.0v9.0M452.8 389.5h9.0M457.3 385.0v9.0M460.1 391.5h9.0M464.6 387.0v9.0M466.5 395.4h9.0M471.0 390.9v9.0M471.4 393.8h9.0M475.9 389.3v9.0M478.6 394.2h9.0M483.1 389.7v9.0M485.1 394.4h9.0M489.6 389.9v9.0M492.0 392.4h9.0M496.5 387.9v9.0M497.6 390.3h9.0M502.1 385.8v9.0M504.1 388.1h9.0M508.6 383.6v9.0M510.7 386.4h9.0M515.2 381.9v9.0M517.1 386.3h9.0M521.6 381.8v9.0M523.3 385.7h9.0M527.8 381.2v9.0M529.8 384.6h9.0M534.3 380.1v9.0M536.1 383.4h9.0M540.6 378.9v9.0M542.5 381.9h9.0M547.0 377.4v9.0M548.9 381.5h9.0M553.4 377.0v9.0M555.3 380.9h9.0M559.8 376.4v9.0M561.6 380.9h9.0M566.1 376.4v9.0M568.0 382.6h9.0M572.5 378.1v9.0M574.4 384.5h9.0M578.9 380.0v9.0M580.8 386.9h9.0M585.3 382.4v9.0M587.1 389.7h9.0M591.6 385.2v9.0M593.5 392.0h9.0M598.0 387.5v9.0M599.9 395.2h9.0M604.4 390.7v9.0M606.3 399.2h9.0M610.8 394.7v9.0M612.6 403.0h9.0M617.1 398.5v9.0M619.0 406.9h9.0M623.5 402.4v9.0M625.4 409.1h9.0M629.9 404.6v9.0M631.8 409.6h9.0M636.3 405.1v9.0M638.1 409.5h9.0M642.6 405.0v9.0M644.5 409.4h9.0M649.0 404.9v9.0M650.9 408.9h9.0M655.4 404.4v9.0M657.3 407.4h9.0M661.8 402.9v9.0M663.6 405.9h9.0M668.1 401.4v9.0"/><path d="M68.6 376.4h9.0M73.1 371.9v9.0M75.0 376.5h9.0M79.5 372.0v9.0M81.4 375.9h9.0M85.9 371.4v9.0M87.8 374.8h9.0M92.3 370.3v9.0M94.1 374.3h9.0M98.6 369.8v9.0M100.5 376.5h9.0M105.0 372.0v9.0M106.9 377.2h9.0M111.4 372.7v9.0M113.3 377.3h9.0M117.8 372.8v9.0M119.6 378.1h9.0M124.1 373.6v9.0M126.0 380.0h9.0M130.5 375.5v9.0M132.4 382.5h9.0M136.9 378.0v9.0M138.8 384.7h9.0M143.3 380.2v9.0M145.1 387.6h9.0M149.6 383.1v9.0M151.5 390.6h9.0M156.0 386.1v9.0M157.9 394.1h9.0M162.4 389.6v9.0M164.3 399.4h9.0M168.8 394.9v9.0M170.6 404.4h9.0M175.1 399.9v9.0M177.0 409.6h9.0M181.5 405.1v9.0M183.4 414.4h9.0M187.9 409.9v9.0M189.8 417.9h9.0M194.3 413.4v9.0M196.1 421.4h9.0M200.6 416.9v9.0M202.5 423.3h9.0M207.0 418.8v9.0M208.9 423.1h9.0M213.4 418.6v9.0M215.3 421.1h9.0M219.8 416.6v9.0M221.6 417.1h9.0M226.1 412.6v9.0M228.0 413.4h9.0M232.5 408.9v9.0M234.4 409.4h9.0M238.9 404.9v9.0M240.8 404.8h9.0M245.3 400.3v9.0M247.1 399.1h9.0M251.6 394.6v9.0M254.0 389.4h9.0M258.5 384.9v9.0M259.5 388.4h9.0M264.0 383.9v9.0M266.0 381.0h9.0M270.5 376.5v9.0M272.4 373.6h9.0M276.9 369.1v9.0M279.5 365.4h9.0M284.0 360.9v9.0M284.6 363.6h9.0M289.1 359.1v9.0M291.6 356.2h9.0M296.1 351.7v9.0M298.4 353.7h9.0M302.9 349.2v9.0M305.0 360.7h9.0M309.5 356.2v9.0M310.1 366.1h9.0M314.6 361.6v9.0M317.2 378.4h9.0M321.7 373.9v9.0M324.0 388.1h9.0M328.5 383.6v9.0M330.5 393.3h9.0M335.0 388.8v9.0M335.9 399.9h9.0M340.4 395.4v9.0M342.8 397.3h9.0M347.3 392.8v9.0M349.1 385.3h9.0M353.6 380.8v9.0M355.5 375.3h9.0M360.0 370.8v9.0M361.9 366.5h9.0M366.4 362.0v9.0M368.3 358.9h9.0M372.8 354.4v9.0M374.6 358.2h9.0M379.1 353.7v9.0M381.0 359.7h9.0M385.5 355.2v9.0M386.1 365.2h9.0M390.6 360.7v9.0M388.5 367.6h9.0M393.0 363.1v9.0M395.5 373.1h9.0M400.0 368.6v9.0M400.4 380.0h9.0M404.9 375.5v9.0M408.9 385.1h9.0M413.4 380.6v9.0M415.9 378.3h9.0M420.4 373.8v9.0M421.3 388.9h9.0M425.8 384.4v9.0M426.7 375.3h9.0M431.2 370.8v9.0M432.9 375.5h9.0M437.4 371.0v9.0M438.1 383.3h9.0M442.6 378.8v9.0M442.9 388.9h9.0M447.4 384.4v9.0M450.1 390.9h9.0M454.6 386.4v9.0M454.4 390.8h9.0M458.9 386.3v9.0M461.5 394.6h9.0M466.0 390.1v9.0M468.4 394.9h9.0M472.9 390.4v9.0M474.6 393.4h9.0M479.1 388.9v9.0M480.1 394.8h9.0M484.6 390.3v9.0M487.1 394.0h9.0M491.6 389.5v9.0M493.6 391.8h9.0M498.1 387.3v9.0M500.4 389.3h9.0M504.9 384.8v9.0M506.0 388.7h9.0M510.5 384.2v9.0M512.6 386.6h9.0M517.1 382.1v9.0M519.1 386.1h9.0M523.6 381.6v9.0M525.5 385.3h9.0M530.0 380.8v9.0M531.9 384.1h9.0M536.4 379.6v9.0M538.3 383.1h9.0M542.8 378.6v9.0M544.6 381.8h9.0M549.1 377.3v9.0M551.0 380.7h9.0M555.5 376.2v9.0M557.4 380.7h9.0M561.9 376.2v9.0M563.8 381.5h9.0M568.3 377.0v9.0M570.1 383.3h9.0M574.6 378.8v9.0M576.5 385.7h9.0M581.0 381.2v9.0M582.9 387.9h9.0M587.4 383.4v9.0M589.3 390.3h9.0M593.8 385.8v9.0M595.6 393.1h9.0M600.1 388.6v9.0M602.0 396.7h9.0M606.5 392.2v9.0M608.4 400.1h9.0M612.9 395.6v9.0M614.8 404.0h9.0M619.3 399.5v9.0M621.1 407.6h9.0M625.6 403.1v9.0M627.5 409.5h9.0M632.0 405.0v9.0M633.9 409.6h9.0M638.4 405.1v9.0M640.3 409.5h9.0M644.8 405.0v9.0M646.6 409.3h9.0M651.1 404.8v9.0M653.0 408.6h9.0M657.5 404.1v9.0M659.4 407.3h9.0M663.9 402.8v9.0M665.8 405.7h9.0M670.3 401.2v9.0"/><path d="M70.8 376.4h9.0M75.3 371.9v9.0M77.1 376.4h9.0M81.6 371.9v9.0M83.5 375.7h9.0M88.0 371.2v9.0M89.9 374.8h9.0M94.4 370.3v9.0M96.3 375.1h9.0M100.8 370.6v9.0M102.6 376.8h9.0M107.1 372.3v9.0M109.0 377.3h9.0M113.5 372.8v9.0M115.4 378.0h9.0M119.9 373.5v9.0M121.8 378.5h9.0M126.3 374.0v9.0M128.1 380.9h9.0M132.6 376.4v9.0M134.5 383.0h9.0M139.0 378.5v9.0M140.9 385.7h9.0M145.4 381.2v9.0M147.3 388.6h9.0M151.8 384.1v9.0M153.6 391.3h9.0M158.1 386.8v9.0M160.0 395.8h9.0M164.5 391.3v9.0M166.4 401.1h9.0M170.9 396.6v9.0M172.8 406.2h9.0M177.3 401.7v9.0M179.1 411.4h9.0M183.6 406.9v9.0M185.5 415.7h9.0M190.0 411.2v9.0M191.9 419.4h9.0M196.4 414.9v9.0M198.3 422.2h9.0M202.8 417.7v9.0M204.6 423.6h9.0M209.1 419.1v9.0M211.0 422.5h9.0M215.5 418.0v9.0M217.4 419.8h9.0M221.9 415.3v9.0M223.8 415.6h9.0M228.3 411.1v9.0M230.1 412.3h9.0M234.6 407.8v9.0M236.5 407.9h9.0M241.0 403.4v9.0M242.9 403.0h9.0M247.4 398.5v9.0M249.3 397.1h9.0M253.8 392.6v9.0M255.6 389.1h9.0M260.1 384.6v9.0M262.7 379.6h9.0M267.2 375.1v9.0M267.7 379.5h9.0M272.2 375.0v9.0M274.0 371.9h9.0M278.5 367.4v9.0M281.1 362.1h9.0M285.6 357.6v9.0M288.2 357.7h9.0M292.7 353.2v9.0M293.2 355.0h9.0M297.7 350.5v9.0M300.0 355.7h9.0M304.5 351.2v9.0M307.0 362.2h9.0M311.5 357.7v9.0M313.9 375.3h9.0M318.4 370.8v9.0M318.6 380.7h9.0M323.1 376.2v9.0M325.7 387.9h9.0M330.2 383.4v9.0M332.3 396.7h9.0M336.8 392.2v9.0M338.9 396.8h9.0M343.4 392.3v9.0M344.2 394.7h9.0M348.7 390.2v9.0M351.2 382.3h9.0M355.7 377.8v9.0M357.6 372.8h9.0M362.1 368.3v9.0M364.0 362.3h9.0M368.5 357.8v9.0M370.4 358.0h9.0M374.9 353.5v9.0M376.8 357.8h9.0M381.3 353.3v9.0M383.1 361.3h9.0M387.6 356.8v9.0M387.4 367.6h9.0M391.9 363.1v9.0M389.6 370.8h9.0M394.1 366.3v9.0M398.9 383.4h9.0M403.4 378.9v9.0M403.6 377.7h9.0M408.1 373.2v9.0M410.8 377.9h9.0M415.3 373.4v9.0M416.5 377.9h9.0M421.0 373.4v9.0M423.2 385.5h9.0M427.7 381.0v9.0M429.4 382.7h9.0M433.9 378.2v9.0M436.1 383.1h9.0M440.6 378.6v9.0M439.9 383.1h9.0M444.4 378.6v9.0M443.8 389.0h9.0M448.3 384.5v9.0M451.3 390.3h9.0M455.8 385.8v9.0M458.3 390.5h9.0M462.8 386.0v9.0M462.9 392.5h9.0M467.4 388.0v9.0M470.2 394.4h9.0M474.7 389.9v9.0M476.9 394.2h9.0M481.4 389.7v9.0M483.5 393.8h9.0M488.0 389.3v9.0M489.0 394.1h9.0M493.5 389.6v9.0M495.6 390.2h9.0M500.1 385.7v9.0M502.3 389.6h9.0M506.8 385.1v9.0M508.7 387.5h9.0M513.2 383.0v9.0M514.7 386.6h9.0M519.2 382.1v9.0M521.2 385.7h9.0M525.7 381.2v9.0M527.6 384.7h9.0M532.1 380.2v9.0M534.0 384.0h9.0M538.5 379.5v9.0M540.4 382.9h9.0M544.9 378.4v9.0M546.8 381.5h9.0M551.3 377.0v9.0M553.1 381.2h9.0M557.6 376.7v9.0M559.5 381.1h9.0M564.0 376.6v9.0M565.9 382.1h9.0M570.4 377.6v9.0M572.3 383.7h9.0M576.8 379.2v9.0M578.6 386.5h9.0M583.1 382.0v9.0M585.0 388.7h9.0M589.5 384.2v9.0M591.4 391.3h9.0M595.9 386.8v9.0M597.8 393.7h9.0M602.3 389.2v9.0M604.1 397.9h9.0M608.6 393.4v9.0M610.5 401.4h9.0M615.0 396.9v9.0M616.9 405.3h9.0M621.4 400.8v9.0M623.3 408.9h9.0M627.8 404.4v9.0M629.6 409.8h9.0M634.1 405.3v9.0M636.0 409.7h9.0M640.5 405.2v9.0M642.4 409.2h9.0M646.9 404.7v9.0M648.8 409.2h9.0M653.3 404.7v9.0M655.1 408.4h9.0M659.6 403.9v9.0M661.5 406.6h9.0M666.0 402.1v9.0M667.9 405.2h9.0M672.4 400.7v9.0"/></g>
</svg></body></html>
